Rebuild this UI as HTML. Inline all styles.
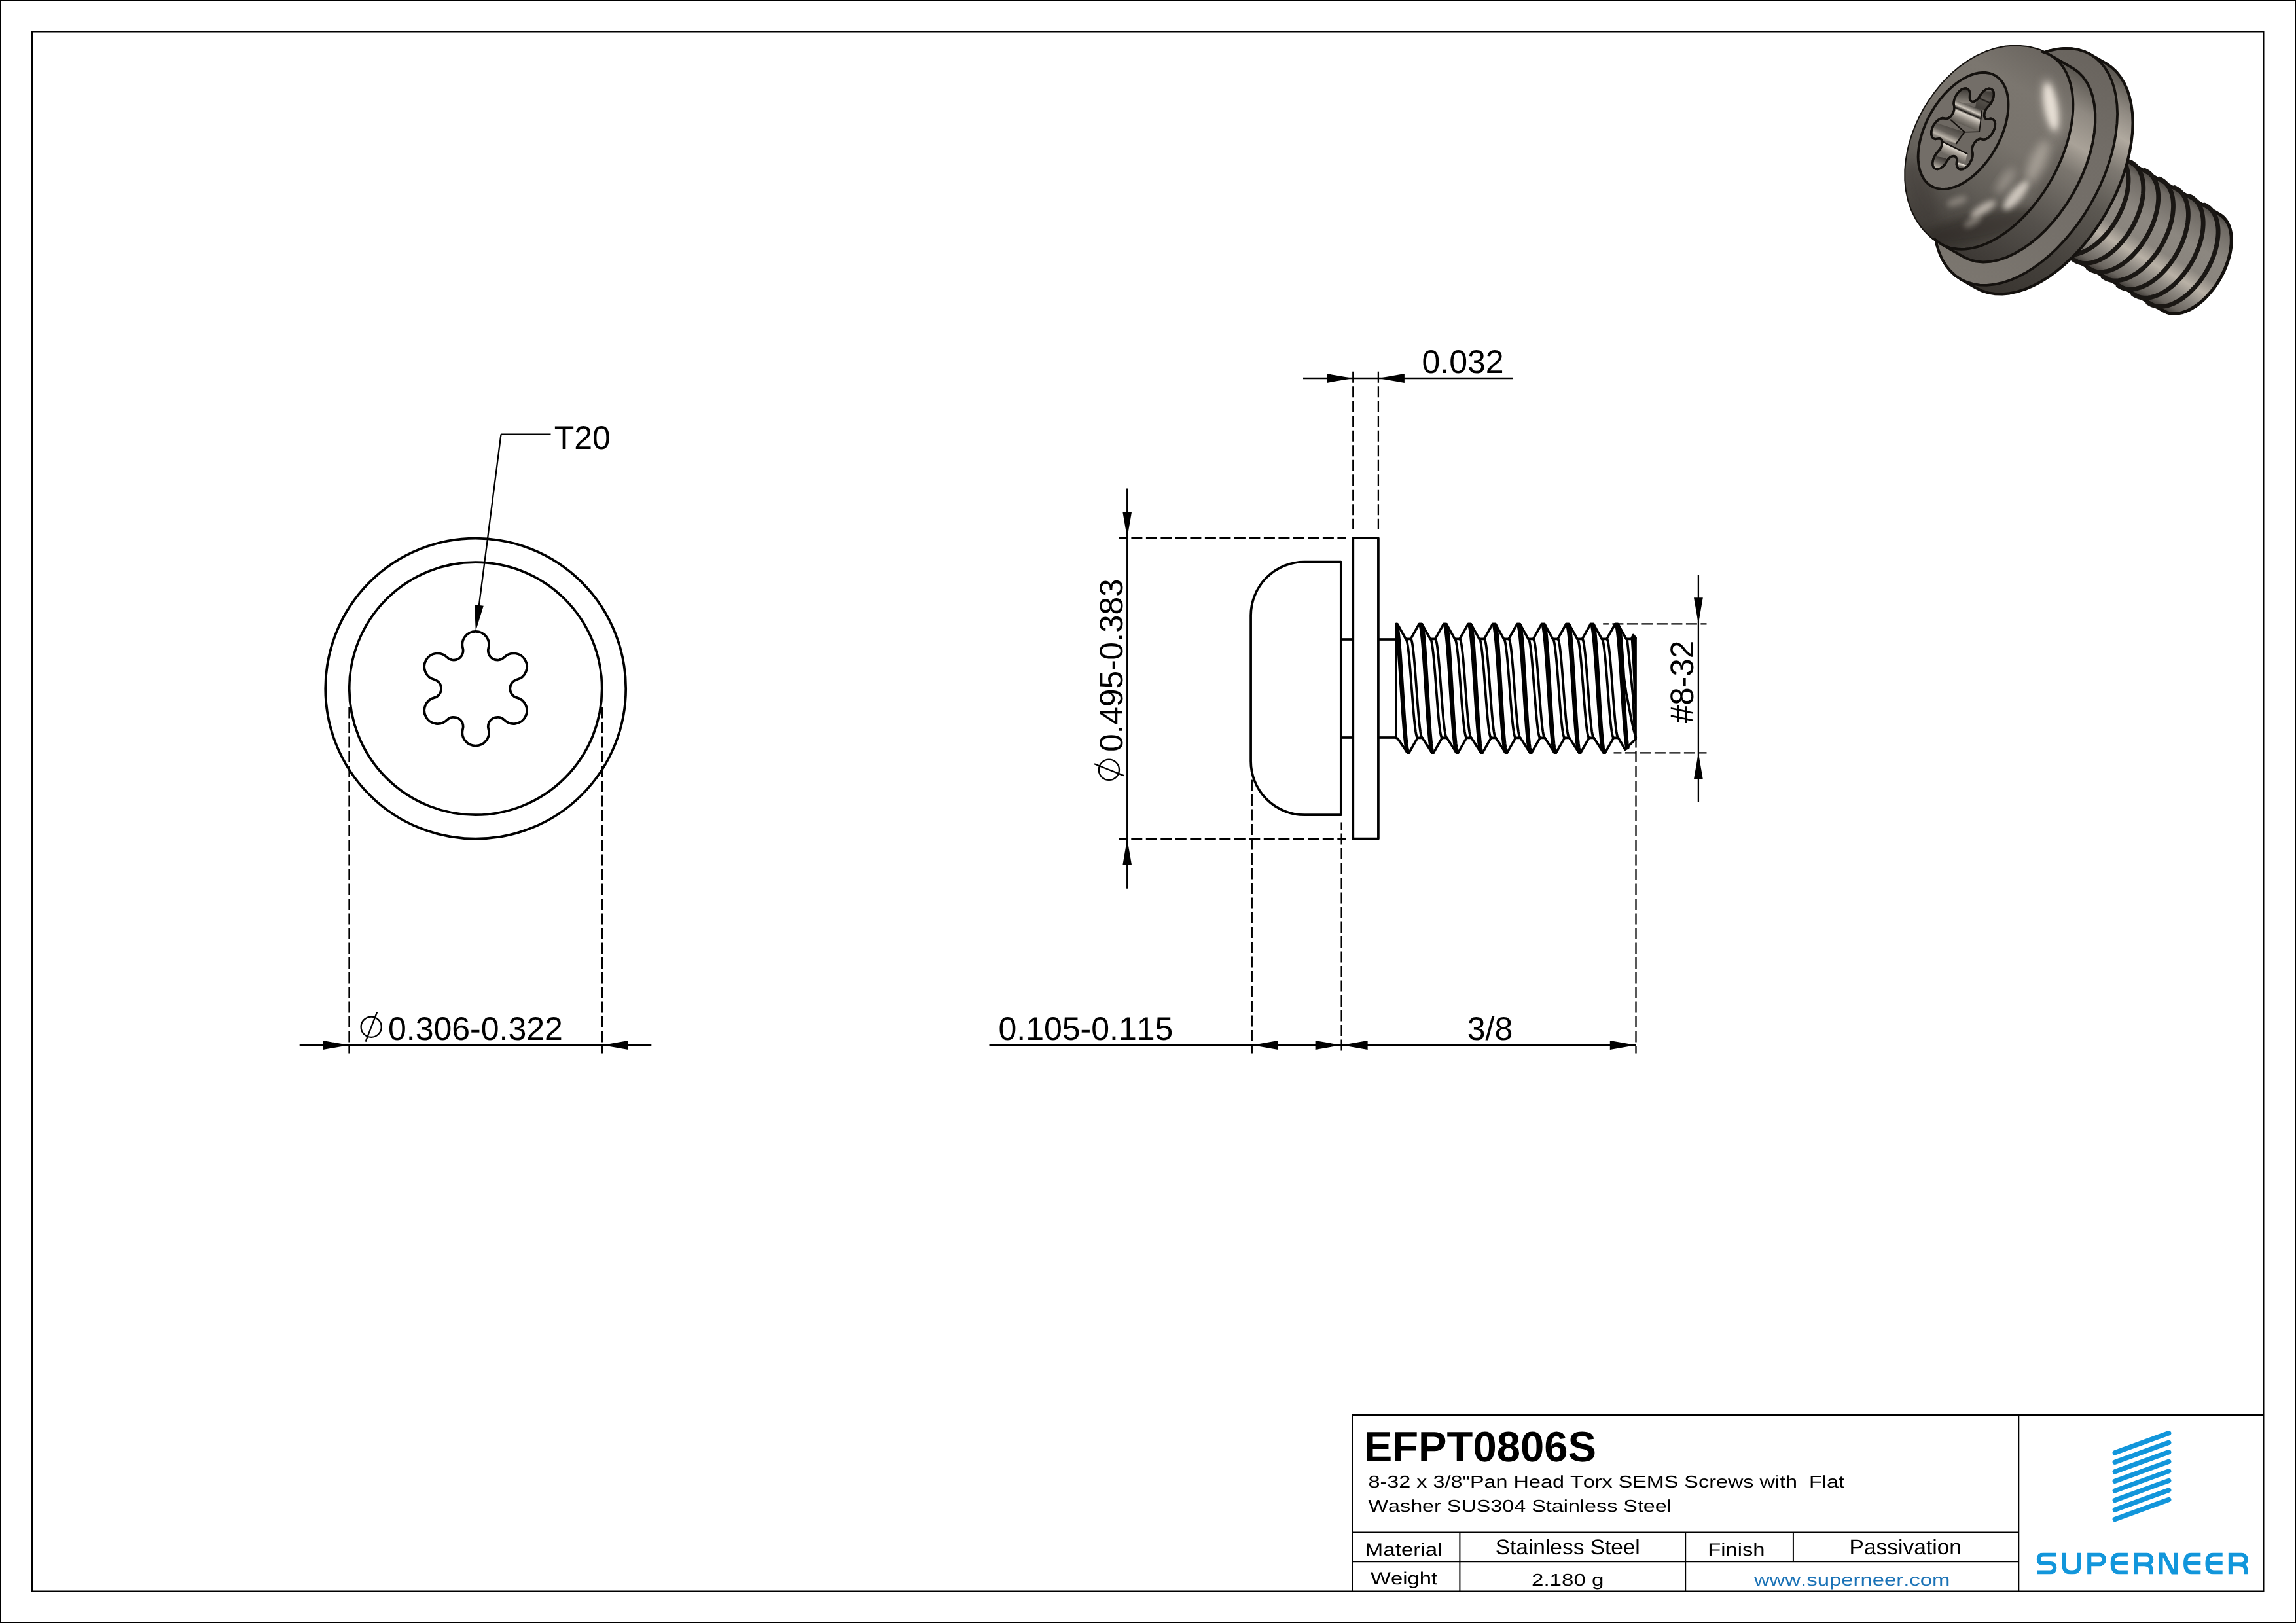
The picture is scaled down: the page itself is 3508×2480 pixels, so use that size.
<!DOCTYPE html>
<html><head><meta charset="utf-8"><title>EFPT0806S</title>
<style>
html,body{margin:0;padding:0;background:#fff;}
body{width:3508px;height:2480px;overflow:hidden;font-family:"Liberation Sans",sans-serif;}
svg{display:block;}
svg text{font-family:"Liberation Sans",sans-serif;font-kerning:none;text-rendering:geometricPrecision;opacity:0.999;}
</style></head><body>
<svg width="3508" height="2480" viewBox="0 0 3508 2480">
<rect width="3508" height="2480" fill="#fff"/>
<rect x="0" y="0" width="3508" height="1.1" fill="#000"/><rect x="0" y="0" width="1.1" height="2480" fill="#000"/><rect x="3506.1" y="0" width="1.9" height="2480" fill="#000"/><rect x="0" y="2478.7" width="3508" height="1.3" fill="#000"/>
<rect x="49" y="48.5" width="3409.50" height="2383.00" fill="none" stroke="#000" stroke-width="2"/>
<circle cx="726.7" cy="1052.2" r="229.5" fill="none" stroke="#000" stroke-width="3.7"/>
<circle cx="726.7" cy="1052.2" r="193" fill="none" stroke="#000" stroke-width="3.7"/>
<path d="M707.09,990.35 A20.3,20.3 0 1 1 746.31,990.35 A14.4,14.4 0 0 0 770.46,1004.29 A20.3,20.3 0 1 1 790.07,1038.26 A14.4,14.4 0 0 0 790.07,1066.14 A20.3,20.3 0 1 1 770.46,1100.11 A14.4,14.4 0 0 0 746.31,1114.05 A20.3,20.3 0 1 1 707.09,1114.05 A14.4,14.4 0 0 0 682.94,1100.11 A20.3,20.3 0 1 1 663.33,1066.14 A14.4,14.4 0 0 0 663.33,1038.26 A20.3,20.3 0 1 1 682.94,1004.29 A14.4,14.4 0 0 0 707.09,990.35Z" fill="none" stroke="#000" stroke-width="3.7" stroke-linejoin="round"/>
<line x1="765.50" y1="663.60" x2="841.50" y2="663.60" stroke="#000" stroke-width="2.3" />
<line x1="765.50" y1="663.60" x2="729.35" y2="944.66" stroke="#000" stroke-width="2.3" />
<polygon points="726.80,964.50 725.06,923.95 738.75,925.71" fill="#000"/>
<text x="846.70" y="685.70" font-size="50" text-anchor="start" font-weight="normal" fill="#000" >T20</text>
<line x1="533.50" y1="1078.00" x2="533.50" y2="1609.60" stroke="#000" stroke-width="2.3" stroke-dasharray="17 5.5" stroke-dashoffset="20.10"/>
<line x1="920.00" y1="1078.00" x2="920.00" y2="1609.60" stroke="#000" stroke-width="2.3" stroke-dasharray="17 5.5" stroke-dashoffset="20.10"/>
<line x1="457.70" y1="1597.00" x2="995.30" y2="1597.00" stroke="#000" stroke-width="2.3" />
<polygon points="533.50,1597.00 493.50,1603.90 493.50,1590.10" fill="#000"/>
<polygon points="920.00,1597.00 960.00,1590.10 960.00,1603.90" fill="#000"/>
<circle cx="567.2" cy="1569.2" r="15.6" fill="none" stroke="#000" stroke-width="2.3"/>
<line x1="558.60" y1="1591.60" x2="576.10" y2="1546.50" stroke="#000" stroke-width="2.3" />
<text x="593.00" y="1588.90" font-size="50" text-anchor="start" font-weight="normal" fill="#000" >0.306-0.322</text>
<path d="M2048.8,858.5 L1993.1,858.5 A82,82 0 0 0 1911.1,940.5 L1911.1,1163.2 A82,82 0 0 0 1993.1,1245.2 L2048.8,1245.2 Z" fill="none" stroke="#000" stroke-width="3.7" stroke-linejoin="round"/>
<rect x="2067.3" y="822.2" width="38.60" height="459.40" fill="none" stroke="#000" stroke-width="3.7" stroke-linejoin="round"/>
<line x1="2048.80" y1="977.00" x2="2067.30" y2="977.00" stroke="#000" stroke-width="3.7" />
<line x1="2048.80" y1="1127.00" x2="2067.30" y2="1127.00" stroke="#000" stroke-width="3.7" />
<line x1="2105.90" y1="977.00" x2="2132.90" y2="977.00" stroke="#000" stroke-width="3.7" />
<line x1="2105.90" y1="1127.00" x2="2132.90" y2="1127.00" stroke="#000" stroke-width="3.7" />
<g id="thread">
<path d="M2132.90,953.65 L2135.10,953.65 L2147.87,976.35 L2155.37,976.35 L2168.14,953.65 L2172.54,953.65 L2185.31,976.35 L2192.81,976.35 L2205.58,953.65 L2209.98,953.65 L2222.75,976.35 L2230.25,976.35 L2243.02,953.65 L2247.42,953.65 L2260.19,976.35 L2267.69,976.35 L2280.46,953.65 L2284.86,953.65 L2297.63,976.35 L2305.13,976.35 L2317.90,953.65 L2322.30,953.65 L2335.07,976.35 L2342.57,976.35 L2355.34,953.65 L2359.74,953.65 L2372.51,976.35 L2380.01,976.35 L2392.78,953.65 L2397.18,953.65 L2409.95,976.35 L2417.45,976.35 L2430.22,953.65 L2434.62,953.65 L2447.39,976.35 L2454.89,976.35 L2467.66,953.65 L2472.06,953.65 L2484.60,976.35 L2492.50,976.35 L2495.40,970.50 L2499.00,974.80" fill="none" stroke="#000" stroke-width="3.7" stroke-linejoin="round" stroke-linecap="round" />
<path d="M2132.90,1127.35 L2135.40,1128.35 L2150.32,1150.05 L2152.92,1150.05 L2165.89,1127.35 L2172.99,1127.35 L2187.76,1150.05 L2190.36,1150.05 L2203.33,1127.35 L2210.43,1127.35 L2225.20,1150.05 L2227.80,1150.05 L2240.77,1127.35 L2247.87,1127.35 L2262.64,1150.05 L2265.24,1150.05 L2278.21,1127.35 L2285.31,1127.35 L2300.08,1150.05 L2302.68,1150.05 L2315.65,1127.35 L2322.75,1127.35 L2337.52,1150.05 L2340.12,1150.05 L2353.09,1127.35 L2360.19,1127.35 L2374.96,1150.05 L2377.56,1150.05 L2390.53,1127.35 L2397.63,1127.35 L2412.40,1150.05 L2415.00,1150.05 L2427.97,1127.35 L2435.07,1127.35 L2449.84,1150.05 L2452.44,1150.05 L2465.41,1127.35 L2472.51,1127.35 L2482.80,1145.00 L2499.00,1129.50" fill="none" stroke="#000" stroke-width="3.7" stroke-linejoin="round" stroke-linecap="round" />
<line x1="2132.90" y1="953.65" x2="2132.90" y2="1127.35" stroke="#000" stroke-width="3.7" />
<line x1="2499.00" y1="974.50" x2="2499.00" y2="1129.50" stroke="#000" stroke-width="3.7" />
<path d="M2132.90,953.65 L2132.90,954.49 L2132.90,957.00 L2132.90,961.13 L2133.72,966.81 L2134.55,973.94 L2135.38,982.41 L2136.21,992.07 L2137.04,1002.75 L2137.87,1014.27 L2138.70,1026.43 L2139.53,1039.03 L2140.36,1051.85 L2141.19,1064.67 L2142.02,1077.27 L2142.85,1089.43 L2143.68,1100.95 L2144.51,1111.63 L2145.34,1121.29 L2146.17,1129.76 L2147.00,1136.89 L2147.83,1142.57 L2148.66,1146.70 L2149.49,1149.21 L2150.32,1150.05 L2152.92,1150.05 L2152.12,1149.21 L2151.33,1146.70 L2150.53,1142.57 L2149.73,1136.89 L2148.94,1129.76 L2148.14,1121.29 L2147.34,1111.63 L2146.55,1100.95 L2145.75,1089.43 L2144.95,1077.27 L2144.16,1064.67 L2143.36,1051.85 L2142.56,1039.03 L2141.77,1026.43 L2140.97,1014.27 L2140.17,1002.75 L2139.38,992.07 L2138.58,982.41 L2137.78,973.94 L2136.99,966.81 L2136.19,961.13 L2135.39,957.00 L2134.60,954.49 L2133.80,953.65Z" fill="#000" stroke="#000" stroke-width="3.7" stroke-linejoin="round" stroke-linecap="round" />
<path d="M2147.87,976.35 L2148.62,977.00 L2149.37,978.92 L2150.12,982.10 L2150.87,986.47 L2151.62,991.95 L2152.38,998.46 L2153.13,1005.89 L2153.88,1014.10 L2154.63,1022.96 L2155.38,1032.31 L2156.13,1042.00 L2156.88,1051.85 L2157.63,1061.70 L2158.38,1071.39 L2159.13,1080.74 L2159.88,1089.60 L2160.63,1097.81 L2161.39,1105.24 L2162.14,1111.75 L2162.89,1117.23 L2163.64,1121.60 L2164.39,1124.78 L2165.14,1126.70 L2165.89,1127.35" fill="none" stroke="#000" stroke-width="3.7" stroke-linejoin="round" stroke-linecap="round" />
<path d="M2155.37,976.35 L2156.10,977.00 L2156.84,978.92 L2157.57,982.10 L2158.31,986.47 L2159.04,991.95 L2159.78,998.46 L2160.51,1005.89 L2161.24,1014.10 L2161.98,1022.96 L2162.71,1032.31 L2163.45,1042.00 L2164.18,1051.85 L2164.91,1061.70 L2165.65,1071.39 L2166.38,1080.74 L2167.12,1089.60 L2167.85,1097.81 L2168.59,1105.24 L2169.32,1111.75 L2170.05,1117.23 L2170.79,1121.60 L2171.52,1124.78 L2172.26,1126.70 L2172.99,1127.35" fill="none" stroke="#000" stroke-width="3.7" stroke-linejoin="round" stroke-linecap="round" />
<path d="M2168.14,953.65 L2168.96,954.49 L2169.78,957.00 L2170.59,961.13 L2171.41,966.81 L2172.23,973.94 L2173.05,982.41 L2173.86,992.07 L2174.68,1002.75 L2175.50,1014.27 L2176.32,1026.43 L2177.13,1039.03 L2177.95,1051.85 L2178.77,1064.67 L2179.59,1077.27 L2180.40,1089.43 L2181.22,1100.95 L2182.04,1111.63 L2182.86,1121.29 L2183.67,1129.76 L2184.49,1136.89 L2185.31,1142.57 L2186.12,1146.70 L2186.94,1149.21 L2187.76,1150.05 L2190.36,1150.05 L2189.62,1149.21 L2188.88,1146.70 L2188.13,1142.57 L2187.39,1136.89 L2186.65,1129.76 L2185.91,1121.29 L2185.16,1111.63 L2184.42,1100.95 L2183.68,1089.43 L2182.93,1077.27 L2182.19,1064.67 L2181.45,1051.85 L2180.71,1039.03 L2179.97,1026.43 L2179.22,1014.27 L2178.48,1002.75 L2177.74,992.07 L2176.99,982.41 L2176.25,973.94 L2175.51,966.81 L2174.77,961.13 L2174.03,957.00 L2173.28,954.49 L2172.54,953.65Z" fill="#000" stroke="#000" stroke-width="3.7" stroke-linejoin="round" stroke-linecap="round" />
<path d="M2185.31,976.35 L2186.06,977.00 L2186.81,978.92 L2187.56,982.10 L2188.31,986.47 L2189.06,991.95 L2189.82,998.46 L2190.57,1005.89 L2191.32,1014.10 L2192.07,1022.96 L2192.82,1032.31 L2193.57,1042.00 L2194.32,1051.85 L2195.07,1061.70 L2195.82,1071.39 L2196.57,1080.74 L2197.32,1089.60 L2198.07,1097.81 L2198.83,1105.24 L2199.58,1111.75 L2200.33,1117.23 L2201.08,1121.60 L2201.83,1124.78 L2202.58,1126.70 L2203.33,1127.35" fill="none" stroke="#000" stroke-width="3.7" stroke-linejoin="round" stroke-linecap="round" />
<path d="M2192.81,976.35 L2193.54,977.00 L2194.28,978.92 L2195.01,982.10 L2195.75,986.47 L2196.48,991.95 L2197.22,998.46 L2197.95,1005.89 L2198.68,1014.10 L2199.42,1022.96 L2200.15,1032.31 L2200.89,1042.00 L2201.62,1051.85 L2202.35,1061.70 L2203.09,1071.39 L2203.82,1080.74 L2204.56,1089.60 L2205.29,1097.81 L2206.03,1105.24 L2206.76,1111.75 L2207.49,1117.23 L2208.23,1121.60 L2208.96,1124.78 L2209.70,1126.70 L2210.43,1127.35" fill="none" stroke="#000" stroke-width="3.7" stroke-linejoin="round" stroke-linecap="round" />
<path d="M2205.58,953.65 L2206.40,954.49 L2207.22,957.00 L2208.03,961.13 L2208.85,966.81 L2209.67,973.94 L2210.49,982.41 L2211.30,992.07 L2212.12,1002.75 L2212.94,1014.27 L2213.76,1026.43 L2214.57,1039.03 L2215.39,1051.85 L2216.21,1064.67 L2217.03,1077.27 L2217.84,1089.43 L2218.66,1100.95 L2219.48,1111.63 L2220.30,1121.29 L2221.11,1129.76 L2221.93,1136.89 L2222.75,1142.57 L2223.57,1146.70 L2224.38,1149.21 L2225.20,1150.05 L2227.80,1150.05 L2227.06,1149.21 L2226.32,1146.70 L2225.57,1142.57 L2224.83,1136.89 L2224.09,1129.76 L2223.35,1121.29 L2222.60,1111.63 L2221.86,1100.95 L2221.12,1089.43 L2220.38,1077.27 L2219.63,1064.67 L2218.89,1051.85 L2218.15,1039.03 L2217.41,1026.43 L2216.66,1014.27 L2215.92,1002.75 L2215.18,992.07 L2214.43,982.41 L2213.69,973.94 L2212.95,966.81 L2212.21,961.13 L2211.47,957.00 L2210.72,954.49 L2209.98,953.65Z" fill="#000" stroke="#000" stroke-width="3.7" stroke-linejoin="round" stroke-linecap="round" />
<path d="M2222.75,976.35 L2223.50,977.00 L2224.25,978.92 L2225.00,982.10 L2225.75,986.47 L2226.50,991.95 L2227.26,998.46 L2228.01,1005.89 L2228.76,1014.10 L2229.51,1022.96 L2230.26,1032.31 L2231.01,1042.00 L2231.76,1051.85 L2232.51,1061.70 L2233.26,1071.39 L2234.01,1080.74 L2234.76,1089.60 L2235.51,1097.81 L2236.27,1105.24 L2237.02,1111.75 L2237.77,1117.23 L2238.52,1121.60 L2239.27,1124.78 L2240.02,1126.70 L2240.77,1127.35" fill="none" stroke="#000" stroke-width="3.7" stroke-linejoin="round" stroke-linecap="round" />
<path d="M2230.25,976.35 L2230.98,977.00 L2231.72,978.92 L2232.45,982.10 L2233.19,986.47 L2233.92,991.95 L2234.66,998.46 L2235.39,1005.89 L2236.12,1014.10 L2236.86,1022.96 L2237.59,1032.31 L2238.33,1042.00 L2239.06,1051.85 L2239.79,1061.70 L2240.53,1071.39 L2241.26,1080.74 L2242.00,1089.60 L2242.73,1097.81 L2243.47,1105.24 L2244.20,1111.75 L2244.93,1117.23 L2245.67,1121.60 L2246.40,1124.78 L2247.14,1126.70 L2247.87,1127.35" fill="none" stroke="#000" stroke-width="3.7" stroke-linejoin="round" stroke-linecap="round" />
<path d="M2243.02,953.65 L2243.84,954.49 L2244.66,957.00 L2245.47,961.13 L2246.29,966.81 L2247.11,973.94 L2247.93,982.41 L2248.74,992.07 L2249.56,1002.75 L2250.38,1014.27 L2251.20,1026.43 L2252.01,1039.03 L2252.83,1051.85 L2253.65,1064.67 L2254.47,1077.27 L2255.28,1089.43 L2256.10,1100.95 L2256.92,1111.63 L2257.74,1121.29 L2258.55,1129.76 L2259.37,1136.89 L2260.19,1142.57 L2261.01,1146.70 L2261.82,1149.21 L2262.64,1150.05 L2265.24,1150.05 L2264.50,1149.21 L2263.76,1146.70 L2263.01,1142.57 L2262.27,1136.89 L2261.53,1129.76 L2260.79,1121.29 L2260.04,1111.63 L2259.30,1100.95 L2258.56,1089.43 L2257.82,1077.27 L2257.07,1064.67 L2256.33,1051.85 L2255.59,1039.03 L2254.85,1026.43 L2254.10,1014.27 L2253.36,1002.75 L2252.62,992.07 L2251.88,982.41 L2251.13,973.94 L2250.39,966.81 L2249.65,961.13 L2248.91,957.00 L2248.16,954.49 L2247.42,953.65Z" fill="#000" stroke="#000" stroke-width="3.7" stroke-linejoin="round" stroke-linecap="round" />
<path d="M2260.19,976.35 L2260.94,977.00 L2261.69,978.92 L2262.44,982.10 L2263.19,986.47 L2263.94,991.95 L2264.70,998.46 L2265.45,1005.89 L2266.20,1014.10 L2266.95,1022.96 L2267.70,1032.31 L2268.45,1042.00 L2269.20,1051.85 L2269.95,1061.70 L2270.70,1071.39 L2271.45,1080.74 L2272.20,1089.60 L2272.95,1097.81 L2273.71,1105.24 L2274.46,1111.75 L2275.21,1117.23 L2275.96,1121.60 L2276.71,1124.78 L2277.46,1126.70 L2278.21,1127.35" fill="none" stroke="#000" stroke-width="3.7" stroke-linejoin="round" stroke-linecap="round" />
<path d="M2267.69,976.35 L2268.42,977.00 L2269.16,978.92 L2269.89,982.10 L2270.63,986.47 L2271.36,991.95 L2272.10,998.46 L2272.83,1005.89 L2273.56,1014.10 L2274.30,1022.96 L2275.03,1032.31 L2275.77,1042.00 L2276.50,1051.85 L2277.23,1061.70 L2277.97,1071.39 L2278.70,1080.74 L2279.44,1089.60 L2280.17,1097.81 L2280.91,1105.24 L2281.64,1111.75 L2282.37,1117.23 L2283.11,1121.60 L2283.84,1124.78 L2284.58,1126.70 L2285.31,1127.35" fill="none" stroke="#000" stroke-width="3.7" stroke-linejoin="round" stroke-linecap="round" />
<path d="M2280.46,953.65 L2281.28,954.49 L2282.09,957.00 L2282.91,961.13 L2283.73,966.81 L2284.55,973.94 L2285.36,982.41 L2286.18,992.07 L2287.00,1002.75 L2287.82,1014.27 L2288.63,1026.43 L2289.45,1039.03 L2290.27,1051.85 L2291.09,1064.67 L2291.90,1077.27 L2292.72,1089.43 L2293.54,1100.95 L2294.36,1111.63 L2295.17,1121.29 L2295.99,1129.76 L2296.81,1136.89 L2297.63,1142.57 L2298.44,1146.70 L2299.26,1149.21 L2300.08,1150.05 L2302.68,1150.05 L2301.94,1149.21 L2301.19,1146.70 L2300.45,1142.57 L2299.71,1136.89 L2298.97,1129.76 L2298.22,1121.29 L2297.48,1111.63 L2296.74,1100.95 L2296.00,1089.43 L2295.25,1077.27 L2294.51,1064.67 L2293.77,1051.85 L2293.03,1039.03 L2292.28,1026.43 L2291.54,1014.27 L2290.80,1002.75 L2290.06,992.07 L2289.31,982.41 L2288.57,973.94 L2287.83,966.81 L2287.09,961.13 L2286.34,957.00 L2285.60,954.49 L2284.86,953.65Z" fill="#000" stroke="#000" stroke-width="3.7" stroke-linejoin="round" stroke-linecap="round" />
<path d="M2297.63,976.35 L2298.38,977.00 L2299.13,978.92 L2299.88,982.10 L2300.63,986.47 L2301.38,991.95 L2302.13,998.46 L2302.89,1005.89 L2303.64,1014.10 L2304.39,1022.96 L2305.14,1032.31 L2305.89,1042.00 L2306.64,1051.85 L2307.39,1061.70 L2308.14,1071.39 L2308.89,1080.74 L2309.64,1089.60 L2310.39,1097.81 L2311.14,1105.24 L2311.90,1111.75 L2312.65,1117.23 L2313.40,1121.60 L2314.15,1124.78 L2314.90,1126.70 L2315.65,1127.35" fill="none" stroke="#000" stroke-width="3.7" stroke-linejoin="round" stroke-linecap="round" />
<path d="M2305.13,976.35 L2305.86,977.00 L2306.60,978.92 L2307.33,982.10 L2308.07,986.47 L2308.80,991.95 L2309.53,998.46 L2310.27,1005.89 L2311.00,1014.10 L2311.74,1022.96 L2312.47,1032.31 L2313.21,1042.00 L2313.94,1051.85 L2314.67,1061.70 L2315.41,1071.39 L2316.14,1080.74 L2316.88,1089.60 L2317.61,1097.81 L2318.34,1105.24 L2319.08,1111.75 L2319.81,1117.23 L2320.55,1121.60 L2321.28,1124.78 L2322.02,1126.70 L2322.75,1127.35" fill="none" stroke="#000" stroke-width="3.7" stroke-linejoin="round" stroke-linecap="round" />
<path d="M2317.90,953.65 L2318.72,954.49 L2319.53,957.00 L2320.35,961.13 L2321.17,966.81 L2321.99,973.94 L2322.80,982.41 L2323.62,992.07 L2324.44,1002.75 L2325.26,1014.27 L2326.07,1026.43 L2326.89,1039.03 L2327.71,1051.85 L2328.53,1064.67 L2329.34,1077.27 L2330.16,1089.43 L2330.98,1100.95 L2331.80,1111.63 L2332.61,1121.29 L2333.43,1129.76 L2334.25,1136.89 L2335.07,1142.57 L2335.88,1146.70 L2336.70,1149.21 L2337.52,1150.05 L2340.12,1150.05 L2339.38,1149.21 L2338.63,1146.70 L2337.89,1142.57 L2337.15,1136.89 L2336.41,1129.76 L2335.66,1121.29 L2334.92,1111.63 L2334.18,1100.95 L2333.44,1089.43 L2332.69,1077.27 L2331.95,1064.67 L2331.21,1051.85 L2330.47,1039.03 L2329.72,1026.43 L2328.98,1014.27 L2328.24,1002.75 L2327.50,992.07 L2326.75,982.41 L2326.01,973.94 L2325.27,966.81 L2324.53,961.13 L2323.78,957.00 L2323.04,954.49 L2322.30,953.65Z" fill="#000" stroke="#000" stroke-width="3.7" stroke-linejoin="round" stroke-linecap="round" />
<path d="M2335.07,976.35 L2335.82,977.00 L2336.57,978.92 L2337.32,982.10 L2338.07,986.47 L2338.82,991.95 L2339.57,998.46 L2340.33,1005.89 L2341.08,1014.10 L2341.83,1022.96 L2342.58,1032.31 L2343.33,1042.00 L2344.08,1051.85 L2344.83,1061.70 L2345.58,1071.39 L2346.33,1080.74 L2347.08,1089.60 L2347.83,1097.81 L2348.59,1105.24 L2349.34,1111.75 L2350.09,1117.23 L2350.84,1121.60 L2351.59,1124.78 L2352.34,1126.70 L2353.09,1127.35" fill="none" stroke="#000" stroke-width="3.7" stroke-linejoin="round" stroke-linecap="round" />
<path d="M2342.57,976.35 L2343.30,977.00 L2344.04,978.92 L2344.77,982.10 L2345.51,986.47 L2346.24,991.95 L2346.97,998.46 L2347.71,1005.89 L2348.44,1014.10 L2349.18,1022.96 L2349.91,1032.31 L2350.65,1042.00 L2351.38,1051.85 L2352.11,1061.70 L2352.85,1071.39 L2353.58,1080.74 L2354.32,1089.60 L2355.05,1097.81 L2355.78,1105.24 L2356.52,1111.75 L2357.25,1117.23 L2357.99,1121.60 L2358.72,1124.78 L2359.46,1126.70 L2360.19,1127.35" fill="none" stroke="#000" stroke-width="3.7" stroke-linejoin="round" stroke-linecap="round" />
<path d="M2355.34,953.65 L2356.16,954.49 L2356.97,957.00 L2357.79,961.13 L2358.61,966.81 L2359.43,973.94 L2360.24,982.41 L2361.06,992.07 L2361.88,1002.75 L2362.70,1014.27 L2363.51,1026.43 L2364.33,1039.03 L2365.15,1051.85 L2365.97,1064.67 L2366.78,1077.27 L2367.60,1089.43 L2368.42,1100.95 L2369.24,1111.63 L2370.05,1121.29 L2370.87,1129.76 L2371.69,1136.89 L2372.51,1142.57 L2373.32,1146.70 L2374.14,1149.21 L2374.96,1150.05 L2377.56,1150.05 L2376.82,1149.21 L2376.07,1146.70 L2375.33,1142.57 L2374.59,1136.89 L2373.85,1129.76 L2373.11,1121.29 L2372.36,1111.63 L2371.62,1100.95 L2370.88,1089.43 L2370.13,1077.27 L2369.39,1064.67 L2368.65,1051.85 L2367.91,1039.03 L2367.16,1026.43 L2366.42,1014.27 L2365.68,1002.75 L2364.94,992.07 L2364.19,982.41 L2363.45,973.94 L2362.71,966.81 L2361.97,961.13 L2361.22,957.00 L2360.48,954.49 L2359.74,953.65Z" fill="#000" stroke="#000" stroke-width="3.7" stroke-linejoin="round" stroke-linecap="round" />
<path d="M2372.51,976.35 L2373.26,977.00 L2374.01,978.92 L2374.76,982.10 L2375.51,986.47 L2376.26,991.95 L2377.01,998.46 L2377.77,1005.89 L2378.52,1014.10 L2379.27,1022.96 L2380.02,1032.31 L2380.77,1042.00 L2381.52,1051.85 L2382.27,1061.70 L2383.02,1071.39 L2383.77,1080.74 L2384.52,1089.60 L2385.27,1097.81 L2386.03,1105.24 L2386.78,1111.75 L2387.53,1117.23 L2388.28,1121.60 L2389.03,1124.78 L2389.78,1126.70 L2390.53,1127.35" fill="none" stroke="#000" stroke-width="3.7" stroke-linejoin="round" stroke-linecap="round" />
<path d="M2380.01,976.35 L2380.74,977.00 L2381.48,978.92 L2382.21,982.10 L2382.95,986.47 L2383.68,991.95 L2384.41,998.46 L2385.15,1005.89 L2385.88,1014.10 L2386.62,1022.96 L2387.35,1032.31 L2388.09,1042.00 L2388.82,1051.85 L2389.55,1061.70 L2390.29,1071.39 L2391.02,1080.74 L2391.76,1089.60 L2392.49,1097.81 L2393.22,1105.24 L2393.96,1111.75 L2394.69,1117.23 L2395.43,1121.60 L2396.16,1124.78 L2396.90,1126.70 L2397.63,1127.35" fill="none" stroke="#000" stroke-width="3.7" stroke-linejoin="round" stroke-linecap="round" />
<path d="M2392.78,953.65 L2393.60,954.49 L2394.41,957.00 L2395.23,961.13 L2396.05,966.81 L2396.87,973.94 L2397.68,982.41 L2398.50,992.07 L2399.32,1002.75 L2400.14,1014.27 L2400.95,1026.43 L2401.77,1039.03 L2402.59,1051.85 L2403.41,1064.67 L2404.22,1077.27 L2405.04,1089.43 L2405.86,1100.95 L2406.68,1111.63 L2407.49,1121.29 L2408.31,1129.76 L2409.13,1136.89 L2409.95,1142.57 L2410.76,1146.70 L2411.58,1149.21 L2412.40,1150.05 L2415.00,1150.05 L2414.26,1149.21 L2413.51,1146.70 L2412.77,1142.57 L2412.03,1136.89 L2411.29,1129.76 L2410.55,1121.29 L2409.80,1111.63 L2409.06,1100.95 L2408.32,1089.43 L2407.57,1077.27 L2406.83,1064.67 L2406.09,1051.85 L2405.35,1039.03 L2404.61,1026.43 L2403.86,1014.27 L2403.12,1002.75 L2402.38,992.07 L2401.63,982.41 L2400.89,973.94 L2400.15,966.81 L2399.41,961.13 L2398.66,957.00 L2397.92,954.49 L2397.18,953.65Z" fill="#000" stroke="#000" stroke-width="3.7" stroke-linejoin="round" stroke-linecap="round" />
<path d="M2409.95,976.35 L2410.70,977.00 L2411.45,978.92 L2412.20,982.10 L2412.95,986.47 L2413.70,991.95 L2414.45,998.46 L2415.21,1005.89 L2415.96,1014.10 L2416.71,1022.96 L2417.46,1032.31 L2418.21,1042.00 L2418.96,1051.85 L2419.71,1061.70 L2420.46,1071.39 L2421.21,1080.74 L2421.96,1089.60 L2422.71,1097.81 L2423.47,1105.24 L2424.22,1111.75 L2424.97,1117.23 L2425.72,1121.60 L2426.47,1124.78 L2427.22,1126.70 L2427.97,1127.35" fill="none" stroke="#000" stroke-width="3.7" stroke-linejoin="round" stroke-linecap="round" />
<path d="M2417.45,976.35 L2418.18,977.00 L2418.92,978.92 L2419.65,982.10 L2420.39,986.47 L2421.12,991.95 L2421.86,998.46 L2422.59,1005.89 L2423.32,1014.10 L2424.06,1022.96 L2424.79,1032.31 L2425.53,1042.00 L2426.26,1051.85 L2426.99,1061.70 L2427.73,1071.39 L2428.46,1080.74 L2429.20,1089.60 L2429.93,1097.81 L2430.66,1105.24 L2431.40,1111.75 L2432.13,1117.23 L2432.87,1121.60 L2433.60,1124.78 L2434.34,1126.70 L2435.07,1127.35" fill="none" stroke="#000" stroke-width="3.7" stroke-linejoin="round" stroke-linecap="round" />
<path d="M2430.22,953.65 L2431.04,954.49 L2431.86,957.00 L2432.67,961.13 L2433.49,966.81 L2434.31,973.94 L2435.12,982.41 L2435.94,992.07 L2436.76,1002.75 L2437.58,1014.27 L2438.39,1026.43 L2439.21,1039.03 L2440.03,1051.85 L2440.85,1064.67 L2441.66,1077.27 L2442.48,1089.43 L2443.30,1100.95 L2444.12,1111.63 L2444.93,1121.29 L2445.75,1129.76 L2446.57,1136.89 L2447.39,1142.57 L2448.20,1146.70 L2449.02,1149.21 L2449.84,1150.05 L2452.44,1150.05 L2451.70,1149.21 L2450.95,1146.70 L2450.21,1142.57 L2449.47,1136.89 L2448.73,1129.76 L2447.99,1121.29 L2447.24,1111.63 L2446.50,1100.95 L2445.76,1089.43 L2445.01,1077.27 L2444.27,1064.67 L2443.53,1051.85 L2442.79,1039.03 L2442.05,1026.43 L2441.30,1014.27 L2440.56,1002.75 L2439.82,992.07 L2439.07,982.41 L2438.33,973.94 L2437.59,966.81 L2436.85,961.13 L2436.11,957.00 L2435.36,954.49 L2434.62,953.65Z" fill="#000" stroke="#000" stroke-width="3.7" stroke-linejoin="round" stroke-linecap="round" />
<path d="M2447.39,976.35 L2448.14,977.00 L2448.89,978.92 L2449.64,982.10 L2450.39,986.47 L2451.14,991.95 L2451.89,998.46 L2452.65,1005.89 L2453.40,1014.10 L2454.15,1022.96 L2454.90,1032.31 L2455.65,1042.00 L2456.40,1051.85 L2457.15,1061.70 L2457.90,1071.39 L2458.65,1080.74 L2459.40,1089.60 L2460.15,1097.81 L2460.91,1105.24 L2461.66,1111.75 L2462.41,1117.23 L2463.16,1121.60 L2463.91,1124.78 L2464.66,1126.70 L2465.41,1127.35" fill="none" stroke="#000" stroke-width="3.7" stroke-linejoin="round" stroke-linecap="round" />
<path d="M2454.89,976.35 L2455.62,977.00 L2456.36,978.92 L2457.09,982.10 L2457.83,986.47 L2458.56,991.95 L2459.30,998.46 L2460.03,1005.89 L2460.76,1014.10 L2461.50,1022.96 L2462.23,1032.31 L2462.97,1042.00 L2463.70,1051.85 L2464.43,1061.70 L2465.17,1071.39 L2465.90,1080.74 L2466.64,1089.60 L2467.37,1097.81 L2468.11,1105.24 L2468.84,1111.75 L2469.57,1117.23 L2470.31,1121.60 L2471.04,1124.78 L2471.78,1126.70 L2472.51,1127.35" fill="none" stroke="#000" stroke-width="3.7" stroke-linejoin="round" stroke-linecap="round" />
<path d="M2467.66,953.65 L2468.48,954.49 L2469.30,957.00 L2470.11,961.13 L2470.93,966.81 L2471.75,973.94 L2472.57,982.41 L2473.38,992.07 L2474.20,1002.75 L2475.02,1014.27 L2475.84,1026.43 L2476.65,1039.03 L2477.47,1051.85 L2478.29,1064.67 L2479.11,1077.27 L2479.92,1089.43 L2480.74,1100.95 L2481.56,1111.63 L2482.38,1121.29 L2483.19,1129.76 L2484.01,1136.89 L2484.83,1142.57 L2487.65,1142.57 L2486.91,1136.89 L2486.17,1129.76 L2485.43,1121.29 L2484.68,1111.63 L2483.94,1100.95 L2483.20,1089.43 L2482.45,1077.27 L2481.71,1064.67 L2480.97,1051.85 L2480.23,1039.03 L2479.49,1026.43 L2478.74,1014.27 L2478.00,1002.75 L2477.26,992.07 L2476.51,982.41 L2475.77,973.94 L2475.03,966.81 L2474.29,961.13 L2473.55,957.00 L2472.80,954.49 L2472.06,953.65Z" fill="#000" stroke="#000" stroke-width="3.7" stroke-linejoin="round" stroke-linecap="round" />
<path d="M2487.65,1142.57 L2482.80,1145.00" fill="none" stroke="#000" stroke-width="3.7" stroke-linejoin="round" stroke-linecap="round" />
<path d="M2476.50,967.00 L2479.00,1000.00 L2481.20,1035.00 L2484.50,1058.00 L2488.00,1075.70 L2492.00,1097.00 L2496.00,1115.00 L2499.30,1127.00" fill="none" stroke="#000" stroke-width="3.7" stroke-linejoin="round" stroke-linecap="round" />
<path d="M2486.00,976.60 L2488.50,1000.00 L2490.70,1021.40 L2494.80,1062.00 L2497.30,1109.60" fill="none" stroke="#000" stroke-width="3.7" stroke-linejoin="round" stroke-linecap="round" />
<path d="M2492.70,976.00 L2495.40,971.00 L2499.00,974.50 L2499.00,1075.00 L2497.50,1075.00 L2495.50,1020.00Z" fill="#000" stroke="#000" stroke-width="2" stroke-linejoin="round" stroke-linecap="round" />
</g>
<line x1="2067.30" y1="567.70" x2="2067.30" y2="809.00" stroke="#000" stroke-width="2.3" stroke-dasharray="17 5.5" stroke-dashoffset="0.00"/>
<line x1="2105.90" y1="567.70" x2="2105.90" y2="809.00" stroke="#000" stroke-width="2.3" stroke-dasharray="17 5.5" stroke-dashoffset="0.00"/>
<line x1="1991.00" y1="578.00" x2="2312.00" y2="578.00" stroke="#000" stroke-width="2.3" />
<polygon points="2067.30,578.00 2027.30,584.90 2027.30,571.10" fill="#000"/>
<polygon points="2105.90,578.00 2145.90,571.10 2145.90,584.90" fill="#000"/>
<text x="2172.50" y="569.90" font-size="50" text-anchor="start" font-weight="normal" fill="#000" >0.032</text>
<line x1="1722.20" y1="746.40" x2="1722.20" y2="1357.70" stroke="#000" stroke-width="2.3" />
<polygon points="1722.20,822.20 1715.30,782.20 1729.10,782.20" fill="#000"/>
<polygon points="1722.20,1281.80 1729.10,1321.80 1715.30,1321.80" fill="#000"/>
<line x1="1710.00" y1="822.20" x2="2056.50" y2="822.20" stroke="#000" stroke-width="2.3" stroke-dasharray="17 5.5" stroke-dashoffset="4.10"/>
<line x1="1710.00" y1="1281.80" x2="2056.70" y2="1281.80" stroke="#000" stroke-width="2.3" stroke-dasharray="17 5.5" stroke-dashoffset="4.20"/>
<text x="1715.20" y="1148.70" font-size="50" text-anchor="start" font-weight="normal" fill="#000" transform="rotate(-90 1715.20 1148.70)" textLength="264.20" lengthAdjust="spacingAndGlyphs" >0.495-0.383</text>
<circle cx="1694.4" cy="1176.3" r="15.6" fill="none" stroke="#000" stroke-width="2.3"/>
<line x1="1716.90" y1="1185.10" x2="1672.00" y2="1167.20" stroke="#000" stroke-width="2.3" />
<line x1="2594.90" y1="878.00" x2="2594.90" y2="1226.00" stroke="#000" stroke-width="2.3" />
<polygon points="2594.90,953.30 2588.00,913.30 2601.80,913.30" fill="#000"/>
<polygon points="2594.90,1150.40 2601.80,1190.40 2588.00,1190.40" fill="#000"/>
<line x1="2449.20" y1="953.40" x2="2607.50" y2="953.40" stroke="#000" stroke-width="2.3" stroke-dasharray="17 5.5" stroke-dashoffset="8.30"/>
<line x1="2465.50" y1="1150.40" x2="2607.50" y2="1150.40" stroke="#000" stroke-width="2.3" stroke-dasharray="17 5.5" stroke-dashoffset="5.10"/>
<text x="2587.10" y="1105.30" font-size="50" text-anchor="start" font-weight="normal" fill="#000" transform="rotate(-90 2587.10 1105.30)" textLength="126.50" lengthAdjust="spacingAndGlyphs" >#8-32</text>
<line x1="1912.80" y1="1188.00" x2="1912.80" y2="1609.50" stroke="#000" stroke-width="2.3" stroke-dasharray="17 5.5" stroke-dashoffset="18.90"/>
<line x1="2049.60" y1="1256.50" x2="2049.60" y2="1609.50" stroke="#000" stroke-width="2.3" stroke-dasharray="17 5.5" stroke-dashoffset="5.60"/>
<line x1="2499.50" y1="1128.00" x2="2499.50" y2="1609.50" stroke="#000" stroke-width="2.3" stroke-dasharray="17 5.5" stroke-dashoffset="2.50"/>
<line x1="1511.50" y1="1597.00" x2="2499.80" y2="1597.00" stroke="#000" stroke-width="2.3" />
<polygon points="1912.80,1597.00 1952.80,1590.10 1952.80,1603.90" fill="#000"/>
<polygon points="2049.60,1597.00 2009.60,1603.90 2009.60,1590.10" fill="#000"/>
<polygon points="2049.60,1597.00 2089.60,1590.10 2089.60,1603.90" fill="#000"/>
<polygon points="2499.80,1597.00 2459.80,1603.90 2459.80,1590.10" fill="#000"/>
<text x="1525.50" y="1589.30" font-size="50" text-anchor="start" font-weight="normal" fill="#000" >0.105-0.115</text>
<text x="2276.50" y="1589.00" font-size="50" text-anchor="middle" font-weight="normal" fill="#000" >3/8</text>
<line x1="2066.00" y1="2162.00" x2="3458.50" y2="2162.00" stroke="#000" stroke-width="2" />
<line x1="2066.00" y1="2161.00" x2="2066.00" y2="2431.50" stroke="#000" stroke-width="2" />
<line x1="3084.30" y1="2162.00" x2="3084.30" y2="2431.50" stroke="#000" stroke-width="2" />
<line x1="2066.00" y1="2341.40" x2="3084.30" y2="2341.40" stroke="#000" stroke-width="2" />
<line x1="2066.00" y1="2386.30" x2="3084.30" y2="2386.30" stroke="#000" stroke-width="2" />
<line x1="2230.40" y1="2341.40" x2="2230.40" y2="2431.50" stroke="#000" stroke-width="2" />
<line x1="2575.20" y1="2341.40" x2="2575.20" y2="2431.50" stroke="#000" stroke-width="2" />
<line x1="2739.90" y1="2341.40" x2="2739.90" y2="2386.30" stroke="#000" stroke-width="2" />
<text x="2083.80" y="2232.90" font-size="65.2" text-anchor="start" font-weight="bold" fill="#000" >EFPT0806S</text>
<text x="2090.50" y="2273.20" font-size="26" text-anchor="start" font-weight="normal" fill="#000" textLength="727.50" lengthAdjust="spacingAndGlyphs" xml:space="preserve">8-32 x 3/8&quot;Pan Head Torx SEMS Screws with&#160; Flat</text>
<text x="2090.50" y="2309.80" font-size="26" text-anchor="start" font-weight="normal" fill="#000" textLength="463.50" lengthAdjust="spacingAndGlyphs" >Washer SUS304 Stainless Steel</text>
<text x="2085.60" y="2376.60" font-size="27" text-anchor="start" font-weight="normal" fill="#000" textLength="118.00" lengthAdjust="spacingAndGlyphs" >Material</text>
<text x="2094.10" y="2420.50" font-size="27" text-anchor="start" font-weight="normal" fill="#000" textLength="102.00" lengthAdjust="spacingAndGlyphs" >Weight</text>
<text x="2284.80" y="2375.20" font-size="32.5" text-anchor="start" font-weight="normal" fill="#000" textLength="221.00" lengthAdjust="spacingAndGlyphs" >Stainless Steel</text>
<text x="2340.00" y="2423.40" font-size="26" text-anchor="start" font-weight="normal" fill="#000" textLength="110.50" lengthAdjust="spacingAndGlyphs" >2.180 g</text>
<text x="2609.30" y="2376.60" font-size="27" text-anchor="start" font-weight="normal" fill="#000" textLength="87.20" lengthAdjust="spacingAndGlyphs" >Finish</text>
<text x="2825.60" y="2375.20" font-size="32.5" text-anchor="start" font-weight="normal" fill="#000" textLength="171.30" lengthAdjust="spacingAndGlyphs" >Passivation</text>
<text x="2679.90" y="2423.40" font-size="26" text-anchor="start" font-weight="normal" fill="#1a72b6" textLength="299.50" lengthAdjust="spacingAndGlyphs" >www.superneer.com</text>
<line x1="3231.3" y1="2219.70" x2="3313.7" y2="2189.70" stroke="#1296db" stroke-width="7.4" stroke-linecap="round"/>
<line x1="3231.3" y1="2234.24" x2="3313.7" y2="2204.24" stroke="#1296db" stroke-width="7.4" stroke-linecap="round"/>
<line x1="3231.3" y1="2248.78" x2="3313.7" y2="2218.78" stroke="#1296db" stroke-width="7.4" stroke-linecap="round"/>
<line x1="3231.3" y1="2263.32" x2="3313.7" y2="2233.32" stroke="#1296db" stroke-width="7.4" stroke-linecap="round"/>
<line x1="3231.3" y1="2277.86" x2="3313.7" y2="2247.86" stroke="#1296db" stroke-width="7.4" stroke-linecap="round"/>
<line x1="3231.3" y1="2292.40" x2="3313.7" y2="2262.40" stroke="#1296db" stroke-width="7.4" stroke-linecap="round"/>
<line x1="3231.3" y1="2306.94" x2="3313.7" y2="2276.94" stroke="#1296db" stroke-width="7.4" stroke-linecap="round"/>
<line x1="3231.3" y1="2321.48" x2="3313.7" y2="2291.48" stroke="#1296db" stroke-width="7.4" stroke-linecap="round"/>
<clipPath id="lgclip"><rect x="3100" y="2372.4" width="350" height="33.20"/></clipPath>
<path d="M3141.00,2375.5 H3121.90 Q3114.90,2375.5 3114.90,2382.0 V2382.5 Q3114.90,2389.0 3121.90,2389.0 H3132.20 Q3139.20,2389.0 3139.20,2395.5 V2396.0 Q3139.20,2402.5 3132.20,2402.5 H3112.80 M3153.70,2372.4 V2392.5 Q3153.70,2402.5 3163.70,2402.5 H3166.50 Q3176.50,2402.5 3176.50,2392.5 V2372.4 M3192.20,2405.6 V2375.5 H3207.60 A7.40,7.40 0 0 1 3207.60,2390.3 H3192.20 M3250.90,2375.5 H3237.20 C3230.70,2375.5 3227.70,2380.5 3227.70,2389.0 C3227.70,2397.5 3230.70,2402.5 3237.20,2402.5 H3250.90 M3227.70,2389.0 H3250.90 M3263.30,2405.6 V2375.5 H3279.85 A7.35,7.35 0 0 1 3279.85,2390.2 H3263.30 M3276.00,2390.2 Q3286.70,2390.2 3286.70,2399.7 V2405.6 M3301.50,2405.6 V2366.4 L3324.30,2411.6 V2372.4 M3362.30,2375.5 H3348.60 C3342.10,2375.5 3339.10,2380.5 3339.10,2389.0 C3339.10,2397.5 3342.10,2402.5 3348.60,2402.5 H3362.30 M3339.10,2389.0 H3362.30 M3395.70,2375.5 H3382.00 C3375.50,2375.5 3372.50,2380.5 3372.50,2389.0 C3372.50,2397.5 3375.50,2402.5 3382.00,2402.5 H3395.70 M3372.50,2389.0 H3395.70 M3407.90,2405.6 V2375.5 H3424.45 A7.35,7.35 0 0 1 3424.45,2390.2 H3407.90 M3420.60,2390.2 Q3431.30,2390.2 3431.30,2399.7 V2405.6" fill="none" stroke="#1296db" stroke-width="6.1" stroke-linejoin="miter" stroke-miterlimit="10" clip-path="url(#lgclip)"/>
<g id="screw3d">
<defs>
<filter id="bl4" x="-50%" y="-50%" width="200%" height="200%"><feGaussianBlur stdDeviation="4"/></filter>
<filter id="bl7" x="-50%" y="-50%" width="200%" height="200%"><feGaussianBlur stdDeviation="7"/></filter>
<filter id="bl2" x="-50%" y="-50%" width="200%" height="200%"><feGaussianBlur stdDeviation="1.6"/></filter>
<linearGradient id="gth" gradientUnits="userSpaceOnUse" x1="3278.8" y1="262.7" x2="3193.5" y2="410.3"><stop offset="0" stop-color="#4a4641"/><stop offset="0.08" stop-color="#6f6a64"/><stop offset="0.35" stop-color="#8c8780"/><stop offset="0.55" stop-color="#8a857e"/><stop offset="0.68" stop-color="#b9b1a6"/><stop offset="0.8" stop-color="#8d8881"/><stop offset="0.93" stop-color="#6a655f"/><stop offset="1" stop-color="#3a3632"/></linearGradient>
<linearGradient id="gwr" gradientUnits="userSpaceOnUse" x1="3207.1" y1="90.8" x2="3008.9" y2="434.2"><stop offset="0" stop-color="#55514b"/><stop offset="0.12" stop-color="#8e8880"/><stop offset="0.22" stop-color="#b0a99f"/><stop offset="0.34" stop-color="#7d7871"/><stop offset="0.5" stop-color="#5c5852"/><stop offset="0.75" stop-color="#46423d"/><stop offset="1" stop-color="#38342f"/></linearGradient>
<linearGradient id="gwf" gradientUnits="userSpaceOnUse" x1="3194.0" y1="83.2" x2="2995.8" y2="426.6"><stop offset="0" stop-color="#69645e"/><stop offset="0.3" stop-color="#726d67"/><stop offset="0.6" stop-color="#746f69"/><stop offset="1" stop-color="#7b766f"/></linearGradient>
<linearGradient id="ghd" gradientUnits="userSpaceOnUse" x1="3136.4" y1="86.5" x2="2969.8" y2="375.0"><stop offset="0" stop-color="#6b6660"/><stop offset="0.2" stop-color="#7b766f"/><stop offset="0.45" stop-color="#78736c"/><stop offset="0.7" stop-color="#625e58"/><stop offset="0.88" stop-color="#4d4944"/><stop offset="1" stop-color="#3d3935"/></linearGradient>
<linearGradient id="ghs" gradientUnits="userSpaceOnUse" x1="3151.6" y1="95.3" x2="2985.1" y2="383.8"><stop offset="0" stop-color="#59554f"/><stop offset="0.15" stop-color="#8f8981"/><stop offset="0.3" stop-color="#a9a298"/><stop offset="0.42" stop-color="#7a756e"/><stop offset="0.7" stop-color="#55514c"/><stop offset="1" stop-color="#3c3834"/></linearGradient>
</defs>
<path d="M3058.1,303.3 L3058.3,297.1 L3059.0,290.7 L3060.2,284.1 L3061.8,277.4 L3063.8,270.6 L3066.2,263.8 L3069.0,257.1 L3072.2,250.4 L3075.8,243.9 L3079.7,237.5 L3083.8,231.4 L3088.2,225.6 L3092.9,220.1 L3097.8,215.0 L3102.8,210.3 L3107.9,206.0 L3113.1,202.2 L3118.4,198.9 L3123.6,196.1 L3128.8,193.9 L3134.0,192.3 L3139.0,191.2 L3143.8,190.7 L3148.5,190.8 L3152.9,191.5 L3157.1,192.8 L3161.0,194.7 L3391.7,327.9 L3395.2,330.3 L3398.4,333.2 L3401.2,336.7 L3403.7,340.7 L3405.7,345.2 L3407.3,350.0 L3408.4,355.3 L3409.1,360.9 L3409.3,366.9 L3409.1,373.1 L3408.4,379.5 L3407.3,386.1 L3405.7,392.8 L3403.7,399.5 L3401.2,406.3 L3398.4,413.1 L3395.2,419.7 L3391.7,426.3 L3387.8,432.6 L3383.6,438.7 L3379.2,444.5 L3374.5,450.0 L3369.7,455.1 L3364.7,459.9 L3359.5,464.1 L3354.3,467.9 L3349.1,471.2 L3343.8,474.0 L3338.6,476.2 L3333.5,477.9 L3328.4,478.9 L3323.6,479.4 L3318.9,479.3 L3314.5,478.6 L3310.3,477.3 L3306.4,475.5 L3075.8,342.3 L3072.2,339.9 L3069.0,336.9 L3066.2,333.4 L3063.8,329.4 L3061.8,325.0 L3060.2,320.1 L3059.0,314.8 L3058.3,309.2Z" fill="url(#gth)" stroke="#14110e" stroke-width="5" stroke-linejoin="round"/>
<path d="M3099.0,356.9 L3101.8,358.8 L3104.9,360.4 L3108.1,361.5 L3111.5,362.4 L3115.1,362.8 L3118.8,362.9 L3122.6,362.6 L3126.6,362.0 L3130.6,360.9 L3134.7,359.6 L3138.8,357.8 L3143.0,355.8 L3147.2,353.3 L3151.4,350.6 L3155.5,347.6 L3159.6,344.2 L3163.6,340.6 L3167.6,336.7 L3171.4,332.6 L3175.1,328.2 L3178.7,323.6 L3182.1,318.9 L3185.3,314.0 L3188.4,308.9 L3191.3,303.7 L3193.9,298.5 L3196.3,293.1 L3198.5,287.7 L3200.4,282.3 L3202.1,277.0 L3203.5,271.6 L3204.6,266.3 L3205.4,261.1 L3206.0,256.0 L3206.3,251.0 L3206.3,246.2 L3206.0,241.5 L3205.4,237.1 L3204.6,232.8 L3203.4,228.8 L3202.0,225.1 L3200.4,221.6 L3198.4,218.5 L3196.3,215.6 L3193.8,213.1 L3191.2,210.8 L3188.3,209.0 L3185.3,207.4" fill="none" stroke="#1a1714" stroke-width="6.8" stroke-linecap="round"/>
<path d="M3121.8,370.1 L3124.7,372.0 L3127.7,373.5 L3131.0,374.7 L3134.4,375.5 L3137.9,376.0 L3141.7,376.1 L3145.5,375.8 L3149.4,375.1 L3153.4,374.1 L3157.5,372.8 L3161.7,371.0 L3165.9,369.0 L3170.0,366.5 L3174.2,363.8 L3178.3,360.8 L3182.4,357.4 L3186.5,353.8 L3190.4,349.9 L3194.2,345.8 L3198.0,341.4 L3201.5,336.8 L3204.9,332.1 L3208.2,327.2 L3211.2,322.1 L3214.1,316.9 L3216.7,311.7 L3219.1,306.3 L3221.3,300.9 L3223.2,295.5 L3224.9,290.1 L3226.3,284.8 L3227.4,279.5 L3228.3,274.3 L3228.8,269.2 L3229.1,264.2 L3229.1,259.4 L3228.8,254.7 L3228.3,250.3 L3227.4,246.0 L3226.3,242.0 L3224.9,238.3 L3223.2,234.8 L3221.3,231.7 L3219.1,228.8 L3216.7,226.2 L3214.0,224.0 L3211.2,222.2 L3208.1,220.6" fill="none" stroke="#1a1714" stroke-width="6.8" stroke-linecap="round"/>
<path d="M3144.7,383.3 L3147.5,385.2 L3150.6,386.7 L3153.8,387.9 L3157.2,388.7 L3160.8,389.2 L3164.5,389.3 L3168.3,389.0 L3172.3,388.3 L3176.3,387.3 L3180.4,385.9 L3184.5,384.2 L3188.7,382.1 L3192.9,379.7 L3197.1,377.0 L3201.2,374.0 L3205.3,370.6 L3209.3,367.0 L3213.3,363.1 L3217.1,359.0 L3220.8,354.6 L3224.4,350.0 L3227.8,345.3 L3231.0,340.3 L3234.1,335.3 L3236.9,330.1 L3239.6,324.8 L3242.0,319.5 L3244.2,314.1 L3246.1,308.7 L3247.8,303.3 L3249.2,298.0 L3250.3,292.7 L3251.1,287.5 L3251.7,282.4 L3252.0,277.4 L3252.0,272.5 L3251.7,267.9 L3251.1,263.4 L3250.3,259.2 L3249.1,255.2 L3247.7,251.5 L3246.1,248.0 L3244.1,244.9 L3241.9,242.0 L3239.5,239.4 L3236.9,237.2 L3234.0,235.4 L3231.0,233.8" fill="none" stroke="#1a1714" stroke-width="6.8" stroke-linecap="round"/>
<path d="M3167.5,396.5 L3170.4,398.4 L3173.4,399.9 L3176.7,401.1 L3180.1,401.9 L3183.6,402.4 L3187.3,402.5 L3191.2,402.2 L3195.1,401.5 L3199.1,400.5 L3203.2,399.1 L3207.4,397.4 L3211.5,395.3 L3215.7,392.9 L3219.9,390.2 L3224.0,387.1 L3228.1,383.8 L3232.2,380.2 L3236.1,376.3 L3239.9,372.1 L3243.7,367.8 L3247.2,363.2 L3250.6,358.5 L3253.9,353.5 L3256.9,348.5 L3259.8,343.3 L3262.4,338.0 L3264.8,332.7 L3267.0,327.3 L3268.9,321.9 L3270.6,316.5 L3272.0,311.2 L3273.1,305.9 L3274.0,300.7 L3274.5,295.5 L3274.8,290.6 L3274.8,285.7 L3274.5,281.1 L3274.0,276.6 L3273.1,272.4 L3272.0,268.4 L3270.6,264.7 L3268.9,261.2 L3267.0,258.0 L3264.8,255.2 L3262.4,252.6 L3259.7,250.4 L3256.9,248.5 L3253.8,247.0" fill="none" stroke="#1a1714" stroke-width="6.8" stroke-linecap="round"/>
<path d="M3190.4,409.7 L3193.2,411.6 L3196.3,413.1 L3199.5,414.3 L3202.9,415.1 L3206.5,415.6 L3210.2,415.7 L3214.0,415.4 L3218.0,414.7 L3222.0,413.7 L3226.1,412.3 L3230.2,410.6 L3234.4,408.5 L3238.6,406.1 L3242.7,403.4 L3246.9,400.3 L3251.0,397.0 L3255.0,393.4 L3259.0,389.5 L3262.8,385.3 L3266.5,381.0 L3270.1,376.4 L3273.5,371.6 L3276.7,366.7 L3279.8,361.7 L3282.6,356.5 L3285.3,351.2 L3287.7,345.9 L3289.9,340.5 L3291.8,335.1 L3293.4,329.7 L3294.8,324.4 L3296.0,319.1 L3296.8,313.8 L3297.4,308.7 L3297.7,303.8 L3297.7,298.9 L3297.4,294.3 L3296.8,289.8 L3296.0,285.6 L3294.8,281.6 L3293.4,277.9 L3291.7,274.4 L3289.8,271.2 L3287.6,268.4 L3285.2,265.8 L3282.6,263.6 L3279.7,261.7 L3276.7,260.2" fill="none" stroke="#1a1714" stroke-width="6.8" stroke-linecap="round"/>
<path d="M3213.2,422.9 L3216.1,424.8 L3219.1,426.3 L3222.3,427.5 L3225.8,428.3 L3229.3,428.8 L3233.0,428.8 L3236.9,428.6 L3240.8,427.9 L3244.8,426.9 L3248.9,425.5 L3253.1,423.8 L3257.2,421.7 L3261.4,419.3 L3265.6,416.6 L3269.7,413.5 L3273.8,410.2 L3277.9,406.6 L3281.8,402.7 L3285.6,398.5 L3289.3,394.2 L3292.9,389.6 L3296.3,384.8 L3299.6,379.9 L3302.6,374.9 L3305.5,369.7 L3308.1,364.4 L3310.5,359.1 L3312.7,353.7 L3314.6,348.3 L3316.3,342.9 L3317.7,337.6 L3318.8,332.3 L3319.7,327.0 L3320.2,321.9 L3320.5,316.9 L3320.5,312.1 L3320.2,307.5 L3319.7,303.0 L3318.8,298.8 L3317.7,294.8 L3316.3,291.1 L3314.6,287.6 L3312.7,284.4 L3310.5,281.6 L3308.1,279.0 L3305.4,276.8 L3302.6,274.9 L3299.5,273.4" fill="none" stroke="#1a1714" stroke-width="6.8" stroke-linecap="round"/>
<path d="M3236.1,436.1 L3238.9,438.0 L3242.0,439.5 L3245.2,440.7 L3248.6,441.5 L3252.2,442.0 L3255.9,442.0 L3259.7,441.8 L3263.7,441.1 L3267.7,440.1 L3271.8,438.7 L3275.9,437.0 L3280.1,434.9 L3284.3,432.5 L3288.4,429.8 L3292.6,426.7 L3296.7,423.4 L3300.7,419.7 L3304.6,415.9 L3308.5,411.7 L3312.2,407.4 L3315.8,402.8 L3319.2,398.0 L3322.4,393.1 L3325.5,388.1 L3328.3,382.9 L3331.0,377.6 L3333.4,372.3 L3335.6,366.9 L3337.5,361.5 L3339.1,356.1 L3340.5,350.7 L3341.7,345.4 L3342.5,340.2 L3343.1,335.1 L3343.4,330.1 L3343.4,325.3 L3343.1,320.7 L3342.5,316.2 L3341.6,312.0 L3340.5,308.0 L3339.1,304.2 L3337.4,300.8 L3335.5,297.6 L3333.3,294.7 L3330.9,292.2 L3328.3,290.0 L3325.4,288.1 L3322.4,286.6" fill="none" stroke="#1a1714" stroke-width="6.8" stroke-linecap="round"/>
<path d="M3258.9,449.3 L3261.8,451.2 L3264.8,452.7 L3268.0,453.9 L3271.5,454.7 L3275.0,455.1 L3278.7,455.2 L3282.6,454.9 L3286.5,454.3 L3290.5,453.3 L3294.6,451.9 L3298.8,450.2 L3302.9,448.1 L3307.1,445.7 L3311.3,443.0 L3315.4,439.9 L3319.5,436.6 L3323.6,432.9 L3327.5,429.0 L3331.3,424.9 L3335.0,420.5 L3338.6,416.0 L3342.0,411.2 L3345.3,406.3 L3348.3,401.2 L3351.2,396.1 L3353.8,390.8 L3356.2,385.5 L3358.4,380.1 L3360.3,374.7 L3362.0,369.3 L3363.4,363.9 L3364.5,358.6 L3365.4,353.4 L3365.9,348.3 L3366.2,343.3 L3366.2,338.5 L3365.9,333.9 L3365.3,329.4 L3364.5,325.2 L3363.4,321.2 L3362.0,317.4 L3360.3,314.0 L3358.4,310.8 L3356.2,307.9 L3353.8,305.4 L3351.1,303.2 L3348.3,301.3 L3345.2,299.8" fill="none" stroke="#1a1714" stroke-width="6.8" stroke-linecap="round"/>
<path d="M3281.7,462.5 L3284.6,464.3 L3287.6,465.9 L3290.9,467.1 L3294.3,467.9 L3297.9,468.3 L3301.6,468.4 L3305.4,468.1 L3309.4,467.5 L3313.4,466.5 L3317.5,465.1 L3321.6,463.4 L3325.8,461.3 L3330.0,458.9 L3334.1,456.1 L3338.3,453.1 L3342.4,449.8 L3346.4,446.1 L3350.3,442.2 L3354.2,438.1 L3357.9,433.7 L3361.5,429.2 L3364.9,424.4 L3368.1,419.5 L3371.2,414.4 L3374.0,409.3 L3376.7,404.0 L3379.1,398.7 L3381.3,393.3 L3383.2,387.9 L3384.8,382.5 L3386.2,377.1 L3387.4,371.8 L3388.2,366.6 L3388.8,361.5 L3389.1,356.5 L3389.1,351.7 L3388.8,347.0 L3388.2,342.6 L3387.3,338.4 L3386.2,334.4 L3384.8,330.6 L3383.1,327.2 L3381.2,324.0 L3379.0,321.1 L3376.6,318.6 L3374.0,316.4 L3371.1,314.5 L3368.1,313.0" fill="none" stroke="#1a1714" stroke-width="6.8" stroke-linecap="round"/>
<path d="M2954.7,335.9 L2955.2,321.4 L2956.8,306.5 L2959.5,291.2 L2963.2,275.6 L2967.8,259.9 L2973.5,244.1 L2980.1,228.4 L2987.5,212.9 L2995.8,197.7 L3004.8,182.9 L3014.5,168.8 L3024.8,155.2 L3035.7,142.4 L3046.9,130.5 L3058.6,119.5 L3070.6,109.6 L3082.7,100.7 L3094.9,93.1 L3107.1,86.6 L3119.2,81.5 L3131.2,77.6 L3142.8,75.2 L3154.1,74.0 L3165.0,74.3 L3175.3,75.9 L3185.0,78.9 L3194.0,83.2 L3217.6,96.8 L3225.8,102.5 L3233.3,109.4 L3239.8,117.5 L3245.5,126.8 L3250.2,137.1 L3253.8,148.5 L3256.5,160.7 L3258.1,173.8 L3258.6,187.6 L3258.1,202.0 L3256.5,216.9 L3253.8,232.2 L3250.2,247.8 L3245.5,263.6 L3239.8,279.4 L3233.3,295.1 L3225.8,310.6 L3217.6,325.7 L3208.5,340.5 L3198.8,354.7 L3188.5,368.2 L3177.7,381.0 L3166.4,392.9 L3154.7,403.9 L3142.8,413.9 L3130.7,422.7 L3118.4,430.4 L3106.2,436.8 L3094.1,442.0 L3082.2,445.8 L3070.5,448.3 L3059.2,449.4 L3048.4,449.1 L3038.1,447.5 L3028.3,444.5 L3019.3,440.2 L2995.8,426.6 L2987.5,420.9 L2980.1,414.1 L2973.5,405.9 L2967.8,396.7 L2963.2,386.3 L2959.5,375.0 L2956.8,362.7 L2955.2,349.6Z" fill="url(#gwr)" stroke="#14110e" stroke-width="4.2" stroke-linejoin="round"/>
<path d="M2995.8,426.6 L3004.8,430.9 L3014.5,433.9 L3024.8,435.6 L3035.7,435.8 L3046.9,434.7 L3058.6,432.2 L3070.5,428.4 L3082.7,423.2 L3094.9,416.8 L3107.1,409.1 L3119.2,400.3 L3131.2,390.3 L3142.8,379.3 L3154.1,367.4 L3165.0,354.6 L3175.3,341.1 L3185.0,326.9 L3194.0,312.1 L3202.3,297.0 L3209.7,281.5 L3216.3,265.8 L3221.9,250.0 L3226.6,234.2 L3230.3,218.6 L3232.9,203.3 L3234.5,188.4 L3235.1,174.0 L3234.5,160.2 L3232.9,147.1 L3230.3,134.9 L3226.6,123.5 L3221.9,113.2 L3216.3,103.9 L3209.7,95.8 L3202.3,88.9 L3194.0,83.2 L3185.0,78.9 L3175.3,75.9 L3165.0,74.3 L3154.1,74.0 L3142.8,75.1 L3131.2,77.6 L3119.2,81.5 L3107.1,86.6 L3094.9,93.1 L3082.7,100.7 L3070.5,109.6 L3058.6,119.5 L3046.9,130.5 L3035.7,142.4 L3024.8,155.2 L3014.5,168.8 L3004.8,182.9 L2995.8,197.7 L2987.5,212.9 L2980.1,228.4 L2973.5,244.1 L2967.9,259.9 L2963.2,275.6 L2959.5,291.2 L2956.8,306.5 L2955.3,321.4 L2954.7,335.8 L2955.3,349.6 L2956.8,362.7 L2959.5,375.0 L2963.2,386.3 L2967.9,396.7 L2973.5,405.9 L2980.1,414.0 L2987.5,421.0 L2995.8,426.6Z" fill="url(#gwf)" stroke="#14110e" stroke-width="3.8"/>
<path d="M2911.3,262.7 L2911.3,260.0 L2912.4,247.1 L2912.8,244.6 L2914.9,231.7 L2918.1,218.5 L2922.3,205.2 L2927.5,191.8 L2927.9,190.9 L2933.8,178.2 L2940.4,165.8 L2947.9,153.8 L2956.0,142.3 L2956.6,141.5 L2965.5,130.4 L2975.0,120.1 L2984.8,110.7 L2994.9,102.4 L2996.9,100.8 L3007.5,93.4 L3009.8,92.0 L3020.7,85.7 L3031.5,80.8 L3034.3,79.5 L3037.1,78.6 L3048.1,74.9 L3051.0,74.2 L3061.9,72.0 L3064.9,71.5 L3067.8,71.3 L3078.6,70.6 L3081.5,70.6 L3084.4,70.7 L3094.8,71.7 L3097.7,72.0 L3100.5,72.5 L3103.3,73.2 L3113.2,75.8 L3115.9,76.7 L3118.5,77.7 L3121.1,78.9 L3130.2,83.1 L3132.7,84.4 L3137.6,87.2 L3157.1,98.5 L3166.9,104.2 L3175.1,110.0 L3182.4,117.3 L3188.5,126.1 L3193.6,136.2 L3197.4,147.5 L3199.9,160.0 L3201.2,173.4 L3201.2,187.6 L3199.9,202.5 L3197.4,217.9 L3193.6,233.7 L3188.5,249.6 L3182.4,265.4 L3175.1,281.1 L3166.9,296.5 L3157.7,311.3 L3147.7,325.4 L3137.1,338.7 L3125.8,351.0 L3114.1,362.2 L3102.0,372.1 L3089.8,380.6 L3077.4,387.8 L3065.2,393.4 L3053.1,397.4 L3041.4,399.7 L3030.1,400.4 L3019.5,399.5 L3009.5,396.9 L3000.3,392.6 L2997.9,391.2 L2985.7,384.2 L2975.9,378.6 L2973.5,377.1 L2966.2,372.9 L2963.8,371.4 L2955.5,365.6 L2953.2,364.0 L2951.0,362.2 L2948.9,360.3 L2941.7,353.0 L2939.8,351.0 L2937.9,348.8 L2936.1,346.5 L2930.1,337.9 L2928.6,335.5 L2927.1,332.9 L2922.3,323.3 L2921.1,320.6 L2920.0,317.8 L2916.5,307.2 L2915.7,304.4 L2913.3,293.0 L2912.7,290.1 L2912.4,287.1 L2911.3,275.3Z" fill="url(#ghs)" stroke="#14110e" stroke-width="4" stroke-linejoin="round"/>
<path d="M2911.3,260.2 L2912.4,247.3 L2912.8,244.8 L2914.9,231.9 L2918.1,218.6 L2922.3,205.3 L2922.8,203.9 L2927.8,191.0 L2933.7,178.2 L2940.4,165.8 L2947.9,153.7 L2956.0,142.2 L2964.7,131.4 L2965.6,130.3 L2975.1,120.0 L2984.9,110.6 L2995.1,102.2 L2997.1,100.7 L3007.7,93.3 L3010.0,91.9 L3020.9,85.6 L3031.8,80.7 L3034.5,79.5 L3045.4,75.8 L3048.3,74.9 L3051.2,74.2 L3062.2,72.0 L3065.1,71.5 L3068.0,71.3 L3078.8,70.6 L3081.8,70.6 L3084.6,70.8 L3095.0,71.7 L3097.9,72.0 L3100.7,72.6 L3103.5,73.3 L3113.4,75.9 L3116.1,76.8 L3118.7,77.8 L3121.2,79.0 L3127.8,82.0 L3130.4,83.2 L3132.9,84.5 L3141.1,90.3 L3148.4,97.7 L3154.6,106.5 L3159.6,116.6 L3163.4,127.9 L3165.9,140.3 L3167.2,153.8 L3167.2,168.0 L3165.9,182.9 L3163.4,198.3 L3159.6,214.0 L3154.6,229.9 L3148.4,245.8 L3141.1,261.5 L3132.9,276.9 L3123.7,291.7 L3113.8,305.8 L3103.1,319.1 L3091.8,331.4 L3080.1,342.5 L3068.0,352.5 L3055.8,361.0 L3043.4,368.1 L3031.2,373.7 L3019.1,377.7 L3007.4,380.1 L2996.1,380.8 L2985.5,379.9 L2975.5,377.3 L2966.3,373.0 L2963.9,371.5 L2961.6,369.9 L2953.4,364.1 L2951.2,362.3 L2949.1,360.4 L2941.9,353.2 L2939.9,351.1 L2938.0,349.0 L2936.3,346.7 L2930.3,338.1 L2928.7,335.7 L2927.2,333.1 L2922.4,323.5 L2921.2,320.8 L2920.1,318.1 L2916.6,307.5 L2915.7,304.6 L2912.8,290.4 L2912.4,287.4 L2911.3,275.5Z" fill="url(#ghd)" stroke="none"/>
<clipPath id="cdome"><path d="M2911.3,260.2 L2912.4,247.3 L2912.8,244.8 L2914.9,231.9 L2918.1,218.6 L2922.3,205.3 L2922.8,203.9 L2927.8,191.0 L2933.7,178.2 L2940.4,165.8 L2947.9,153.7 L2956.0,142.2 L2964.7,131.4 L2965.6,130.3 L2975.1,120.0 L2984.9,110.6 L2995.1,102.2 L2997.1,100.7 L3007.7,93.3 L3010.0,91.9 L3020.9,85.6 L3031.8,80.7 L3034.5,79.5 L3045.4,75.8 L3048.3,74.9 L3051.2,74.2 L3062.2,72.0 L3065.1,71.5 L3068.0,71.3 L3078.8,70.6 L3081.8,70.6 L3084.6,70.8 L3095.0,71.7 L3097.9,72.0 L3100.7,72.6 L3103.5,73.3 L3113.4,75.9 L3116.1,76.8 L3118.7,77.8 L3121.2,79.0 L3127.8,82.0 L3130.4,83.2 L3132.9,84.5 L3141.1,90.3 L3148.4,97.7 L3154.6,106.5 L3159.6,116.6 L3163.4,127.9 L3165.9,140.3 L3167.2,153.8 L3167.2,168.0 L3165.9,182.9 L3163.4,198.3 L3159.6,214.0 L3154.6,229.9 L3148.4,245.8 L3141.1,261.5 L3132.9,276.9 L3123.7,291.7 L3113.8,305.8 L3103.1,319.1 L3091.8,331.4 L3080.1,342.5 L3068.0,352.5 L3055.8,361.0 L3043.4,368.1 L3031.2,373.7 L3019.1,377.7 L3007.4,380.1 L2996.1,380.8 L2985.5,379.9 L2975.5,377.3 L2966.3,373.0 L2963.9,371.5 L2961.6,369.9 L2953.4,364.1 L2951.2,362.3 L2949.1,360.4 L2941.9,353.2 L2939.9,351.1 L2938.0,349.0 L2936.3,346.7 L2930.3,338.1 L2928.7,335.7 L2927.2,333.1 L2922.4,323.5 L2921.2,320.8 L2920.1,318.1 L2916.6,307.5 L2915.7,304.6 L2912.8,290.4 L2912.4,287.4 L2911.3,275.5Z"/></clipPath>
<g clip-path="url(#cdome)">
<ellipse cx="3025.6" cy="347.5" rx="97.6" ry="20.7" transform="rotate(-12 3025.6 347.5)" fill="#2b2824" opacity="0.55" filter="url(#bl7)"/>
<ellipse cx="2936.9" cy="294.3" rx="17.7" ry="50.3" transform="rotate(-20 2936.9 294.3)" fill="#3a3632" opacity="0.35" filter="url(#bl7)"/>
<ellipse cx="3143.9" cy="264.7" rx="17.7" ry="76.9" transform="rotate(28 3143.9 264.7)" fill="#3a3632" opacity="0.25" filter="url(#bl7)"/>
<ellipse cx="3133.5" cy="162.7" rx="8.9" ry="35.5" transform="rotate(-10 3133.5 162.7)" fill="#f3ebe1" opacity="1.0" filter="url(#bl4)"/>
<ellipse cx="3133.5" cy="162.7" rx="12.4" ry="44.4" transform="rotate(-10 3133.5 162.7)" fill="#d8d0c6" opacity="0.5" filter="url(#bl7)"/>
<ellipse cx="3112.8" cy="247.0" rx="11.2" ry="35.5" transform="rotate(24 3112.8 247.0)" fill="#b3aca2" opacity="0.75" filter="url(#bl7)"/>
<ellipse cx="3080.3" cy="298.7" rx="8.9" ry="28.1" transform="rotate(40 3080.3 298.7)" fill="#ded6cc" opacity="0.85" filter="url(#bl4)"/>
<ellipse cx="3064.0" cy="276.6" rx="7.7" ry="23.7" transform="rotate(35 3064.0 276.6)" fill="#c9c1b7" opacity="0.5" filter="url(#bl7)"/>
<ellipse cx="3030.0" cy="319.4" rx="7.1" ry="22.2" transform="rotate(58 3030.0 319.4)" fill="#d0c8be" opacity="0.8" filter="url(#bl4)"/>
<ellipse cx="2990.1" cy="307.6" rx="6.5" ry="16.3" transform="rotate(70 2990.1 307.6)" fill="#a59e95" opacity="0.6" filter="url(#bl4)"/>
<ellipse cx="3013.8" cy="338.7" rx="5.9" ry="14.8" transform="rotate(60 3013.8 338.7)" fill="#bdb5ab" opacity="0.5" filter="url(#bl4)"/>
</g>
<path d="M2955.6,364.9 L2959.7,368.6 L2964.2,371.7 L2969.0,374.5 L2974.0,376.7 L2979.3,378.5 L2984.8,379.7 L2990.5,380.5 L2996.4,380.8 L3002.5,380.6 L3008.7,379.9 L3015.0,378.7 L3021.5,377.1 L3028.1,374.9 L3034.7,372.3 L3041.4,369.2 L3048.1,365.6 L3054.8,361.6 L3061.5,357.2 L3068.2,352.4 L3074.8,347.1 L3081.3,341.5 L3087.7,335.5 L3094.0,329.1 L3100.1,322.5 L3106.1,315.5 L3111.9,308.2 L3117.5,300.7 L3122.9,293.0 L3128.0,285.0 L3132.9,276.9 L3137.5,268.6 L3141.8,260.1 L3145.8,251.6 L3149.6,243.0 L3152.9,234.4 L3156.0,225.7 L3158.7,217.0 L3161.1,208.4 L3163.0,199.9 L3164.7,191.4 L3165.9,183.1 L3166.8,174.9 L3167.3,166.9 L3167.4,159.0 L3167.1,151.5 L3166.4,144.1 L3165.4,137.1 L3164.0,130.3 L3162.2,123.9 L3160.0,117.8 L3157.5,112.0 L3154.7,106.7 L3151.5,101.7 L3147.9,97.1 L3144.1,93.0 L3139.9,89.3 L3135.5,86.1 L3130.7,83.3 L3125.7,81.1 L3120.5,79.2" fill="none" stroke="#14110e" stroke-width="3.8" stroke-linecap="round"/>
<path d="M2950.8,284.3 L2955.2,286.5 L2960.0,287.9 L2965.1,288.7 L2970.4,288.9 L2976.0,288.3 L2981.7,287.1 L2987.6,285.2 L2993.6,282.7 L2999.6,279.5 L3005.6,275.7 L3011.5,271.4 L3017.4,266.5 L3023.2,261.1 L3028.7,255.2 L3034.0,248.9 L3039.1,242.3 L3043.9,235.3 L3048.3,228.0 L3052.4,220.6 L3056.1,212.9 L3059.3,205.2 L3062.1,197.5 L3064.4,189.7 L3066.2,182.0 L3067.5,174.5 L3068.3,167.2 L3068.5,160.1 L3068.3,153.3 L3067.5,146.9 L3066.2,140.8 L3064.4,135.2 L3062.1,130.2 L3059.3,125.6 L3056.1,121.6 L3052.4,118.2 L3048.3,115.4 L3043.9,113.3 L3039.1,111.8 L3034.0,111.0 L3028.7,110.9 L3023.2,111.4 L3017.4,112.7 L3011.5,114.6 L3005.6,117.1 L2999.6,120.3 L2993.6,124.0 L2987.6,128.4 L2981.7,133.3 L2976.0,138.7 L2970.4,144.5 L2965.1,150.8 L2960.0,157.5 L2955.2,164.5 L2950.8,171.7 L2946.7,179.2 L2943.1,186.8 L2939.9,194.6 L2937.1,202.3 L2934.8,210.1 L2933.0,217.7 L2931.7,225.3 L2930.9,232.6 L2930.6,239.7 L2930.9,246.5 L2931.7,252.9 L2933.0,258.9 L2934.8,264.5 L2937.1,269.6 L2939.9,274.2 L2943.1,278.2 L2946.7,281.6 L2950.8,284.3Z" fill="#736e68" stroke="#14110e" stroke-width="3.8"/>
<path d="M2961.4,231.1 L2958.0,235.0 L2955.3,239.6 L2953.5,244.5 L2952.8,249.2 L2953.2,253.2 L2954.8,256.3 L2957.3,258.1 L2960.6,258.5 L2964.2,257.3 L2968.0,254.8 L2971.5,251.2 L2974.4,246.7 L2975.9,244.4 L2977.5,242.4 L2979.4,240.7 L2981.3,239.4 L2983.2,238.6 L2985.0,238.4 L2986.6,238.6 L2987.9,239.5 L2988.9,240.8 L2989.6,242.5 L2989.8,244.6 L2989.6,246.9 L2989.4,251.4 L2990.3,255.1 L2992.3,257.6 L2995.1,258.9 L2998.6,258.6 L3002.4,256.8 L3006.1,253.8 L3009.4,249.8 L3011.9,245.1 L3013.6,240.2 L3014.1,235.6 L3013.5,231.7 L3013.1,229.7 L3013.1,227.5 L3013.6,225.1 L3014.4,222.6 L3015.6,220.2 L3017.1,217.9 L3018.8,215.9 L3020.6,214.3 L3022.6,213.1 L3024.4,212.4 L3026.2,212.3 L3027.8,212.7 L3030.9,213.3 L3034.6,212.4 L3038.3,210.1 L3041.9,206.6 L3044.9,202.2 L3047.1,197.4 L3048.3,192.6 L3048.4,188.2 L3047.3,184.7 L3045.1,182.3 L3042.2,181.3 L3038.6,181.8 L3036.8,182.2 L3035.2,182.0 L3033.8,181.3 L3032.7,180.1 L3032.0,178.4 L3031.6,176.4 L3031.8,174.1 L3032.3,171.7 L3033.2,169.2 L3034.5,166.8 L3036.0,164.6 L3037.7,162.7 L3041.1,158.8 L3043.8,154.2 L3045.6,149.3 L3046.3,144.6 L3045.9,140.5 L3044.4,137.5 L3041.8,135.7 L3038.6,135.3 L3034.9,136.4 L3031.1,138.9 L3027.6,142.6 L3024.7,147.1 L3023.3,149.3 L3021.6,151.4 L3019.8,153.1 L3017.8,154.4 L3015.9,155.2 L3014.2,155.4 L3012.5,155.1 L3011.2,154.3 L3010.2,153.0 L3009.6,151.3 L3009.4,149.2 L3009.5,146.9 L3009.8,142.4 L3008.8,138.7 L3006.9,136.1 L3004.0,134.9 L3000.5,135.2 L2996.8,136.9 L2993.1,140.0 L2989.8,144.0 L2987.2,148.7 L2985.6,153.5 L2985.0,158.2 L2985.7,162.1 L2986.0,164.1 L2986.0,166.3 L2985.6,168.7 L2984.7,171.2 L2983.6,173.6 L2982.1,175.9 L2980.4,177.9 L2978.5,179.5 L2976.6,180.7 L2974.7,181.3 L2972.9,181.5 L2971.4,181.1 L2968.2,180.5 L2964.6,181.4 L2960.8,183.7 L2957.2,187.2 L2954.2,191.5 L2952.0,196.4 L2950.8,201.2 L2950.8,205.6 L2951.9,209.1 L2954.0,211.5 L2957.0,212.5 L2960.5,211.9 L2962.3,211.6 L2964.0,211.8 L2965.4,212.5 L2966.5,213.7 L2967.2,215.3 L2967.5,217.3 L2967.4,219.6 L2966.9,222.1 L2965.9,224.5 L2964.7,226.9 L2963.1,229.1Z" fill="#6d6862" stroke="#14110e" stroke-width="3.4" stroke-linejoin="round"/>
<clipPath id="ctx"><path d="M2961.4,231.1 L2958.0,235.0 L2955.3,239.6 L2953.5,244.5 L2952.8,249.2 L2953.2,253.2 L2954.8,256.3 L2957.3,258.1 L2960.6,258.5 L2964.2,257.3 L2968.0,254.8 L2971.5,251.2 L2974.4,246.7 L2975.9,244.4 L2977.5,242.4 L2979.4,240.7 L2981.3,239.4 L2983.2,238.6 L2985.0,238.4 L2986.6,238.6 L2987.9,239.5 L2988.9,240.8 L2989.6,242.5 L2989.8,244.6 L2989.6,246.9 L2989.4,251.4 L2990.3,255.1 L2992.3,257.6 L2995.1,258.9 L2998.6,258.6 L3002.4,256.8 L3006.1,253.8 L3009.4,249.8 L3011.9,245.1 L3013.6,240.2 L3014.1,235.6 L3013.5,231.7 L3013.1,229.7 L3013.1,227.5 L3013.6,225.1 L3014.4,222.6 L3015.6,220.2 L3017.1,217.9 L3018.8,215.9 L3020.6,214.3 L3022.6,213.1 L3024.4,212.4 L3026.2,212.3 L3027.8,212.7 L3030.9,213.3 L3034.6,212.4 L3038.3,210.1 L3041.9,206.6 L3044.9,202.2 L3047.1,197.4 L3048.3,192.6 L3048.4,188.2 L3047.3,184.7 L3045.1,182.3 L3042.2,181.3 L3038.6,181.8 L3036.8,182.2 L3035.2,182.0 L3033.8,181.3 L3032.7,180.1 L3032.0,178.4 L3031.6,176.4 L3031.8,174.1 L3032.3,171.7 L3033.2,169.2 L3034.5,166.8 L3036.0,164.6 L3037.7,162.7 L3041.1,158.8 L3043.8,154.2 L3045.6,149.3 L3046.3,144.6 L3045.9,140.5 L3044.4,137.5 L3041.8,135.7 L3038.6,135.3 L3034.9,136.4 L3031.1,138.9 L3027.6,142.6 L3024.7,147.1 L3023.3,149.3 L3021.6,151.4 L3019.8,153.1 L3017.8,154.4 L3015.9,155.2 L3014.2,155.4 L3012.5,155.1 L3011.2,154.3 L3010.2,153.0 L3009.6,151.3 L3009.4,149.2 L3009.5,146.9 L3009.8,142.4 L3008.8,138.7 L3006.9,136.1 L3004.0,134.9 L3000.5,135.2 L2996.8,136.9 L2993.1,140.0 L2989.8,144.0 L2987.2,148.7 L2985.6,153.5 L2985.0,158.2 L2985.7,162.1 L2986.0,164.1 L2986.0,166.3 L2985.6,168.7 L2984.7,171.2 L2983.6,173.6 L2982.1,175.9 L2980.4,177.9 L2978.5,179.5 L2976.6,180.7 L2974.7,181.3 L2972.9,181.5 L2971.4,181.1 L2968.2,180.5 L2964.6,181.4 L2960.8,183.7 L2957.2,187.2 L2954.2,191.5 L2952.0,196.4 L2950.8,201.2 L2950.8,205.6 L2951.9,209.1 L2954.0,211.5 L2957.0,212.5 L2960.5,211.9 L2962.3,211.6 L2964.0,211.8 L2965.4,212.5 L2966.5,213.7 L2967.2,215.3 L2967.5,217.3 L2967.4,219.6 L2966.9,222.1 L2965.9,224.5 L2964.7,226.9 L2963.1,229.1Z"/></clipPath>
<g clip-path="url(#ctx)">
<linearGradient id="tf1" gradientUnits="userSpaceOnUse" x1="2999.0" y1="135.6" x2="2997.1" y2="157.3"><stop offset="0" stop-color="#3f3b37"/><stop offset="0.6" stop-color="#6a655f"/><stop offset="1" stop-color="#8a847c"/></linearGradient>
<path d="M2985.2,132.7 L3015.8,132.7 L3015.8,157.3 L2985.2,157.3Z" fill="url(#tf1)"/>
<linearGradient id="tf2" gradientUnits="userSpaceOnUse" x1="3037.5" y1="142.5" x2="3027.6" y2="165.2"><stop offset="0" stop-color="#45413c"/><stop offset="0.42" stop-color="#5f5a54"/><stop offset="0.5" stop-color="#1a1714"/><stop offset="0.58" stop-color="#524e48"/><stop offset="1" stop-color="#45413c"/></linearGradient>
<path d="M3021.7,139.6 L3052.3,139.6 L3052.3,171.1 L3017.8,166.2Z" fill="url(#tf2)"/>
<linearGradient id="tf3" gradientUnits="userSpaceOnUse" x1="3007.9" y1="159.8" x2="2994.1" y2="191.4"><stop offset="0" stop-color="#4a4641"/><stop offset="0.22" stop-color="#cfc8be"/><stop offset="0.36" stop-color="#1a1714"/><stop offset="0.44" stop-color="#d8d1c7"/><stop offset="0.7" stop-color="#8a847c"/><stop offset="1" stop-color="#524e48"/></linearGradient>
<path d="M2987.7,153.4 L3029.1,168.2 L3024.2,201.2 L2980.8,183.5Z" fill="url(#tf3)"/>
<linearGradient id="tf4" gradientUnits="userSpaceOnUse" x1="2979.3" y1="191.9" x2="2969.9" y2="213.1"><stop offset="0" stop-color="#4a4641"/><stop offset="0.5" stop-color="#69645e"/><stop offset="0.85" stop-color="#bab3a9"/><stop offset="1" stop-color="#8a847c"/></linearGradient>
<path d="M2952.7,185.9 L3001.5,201.7 L2989.2,219.0 L2952.7,210.1Z" fill="url(#tf4)"/>
<linearGradient id="tf5" gradientUnits="userSpaceOnUse" x1="2988.4" y1="224.9" x2="2981.5" y2="240.7"><stop offset="0" stop-color="#1a1714"/><stop offset="0.12" stop-color="#e3dcd2"/><stop offset="0.5" stop-color="#a39c93"/><stop offset="1" stop-color="#69645e"/></linearGradient>
<path d="M2969.0,217.0 L3005.4,234.8 L3002.5,250.5 L2966.0,232.8Z" fill="url(#tf5)"/>
<linearGradient id="tf6" gradientUnits="userSpaceOnUse" x1="2962.5" y1="238.2" x2="2955.6" y2="255.0"><stop offset="0" stop-color="#3a3632"/><stop offset="0.5" stop-color="#6a655f"/><stop offset="1" stop-color="#b8b1a7"/></linearGradient>
<path d="M2949.7,237.2 L2973.4,241.7 L2971.4,259.9 L2949.7,257.9Z" fill="url(#tf6)"/>
<linearGradient id="tf7" gradientUnits="userSpaceOnUse" x1="2998.0" y1="248.1" x2="2996.1" y2="255.0"><stop offset="0" stop-color="#2a2622"/><stop offset="0.4" stop-color="#e8e1d7"/><stop offset="1" stop-color="#5a5650"/></linearGradient>
<path d="M2989.2,246.1 L3005.0,253.0 L3003.0,257.9 L2988.2,251.0Z" fill="url(#tf7)"/>
<line x1="2980.8" y1="183.5" x2="3001.5" y2="201.7" stroke="#14110e" stroke-width="2.2" stroke-linecap="round"/>
<line x1="3001.5" y1="201.7" x2="2989.2" y2="219.0" stroke="#14110e" stroke-width="2.2" stroke-linecap="round"/>
<line x1="3024.2" y1="201.2" x2="3001.5" y2="201.7" stroke="#14110e" stroke-width="1.6" stroke-linecap="round"/>
<line x1="2969.0" y1="217.0" x2="3005.4" y2="234.8" stroke="#14110e" stroke-width="2.2" stroke-linecap="round"/>
<line x1="3028.1" y1="169.2" x2="3024.2" y2="201.2" stroke="#14110e" stroke-width="1.8" stroke-linecap="round"/>
</g>
<path d="M2961.4,231.1 L2958.0,235.0 L2955.3,239.6 L2953.5,244.5 L2952.8,249.2 L2953.2,253.2 L2954.8,256.3 L2957.3,258.1 L2960.6,258.5 L2964.2,257.3 L2968.0,254.8 L2971.5,251.2 L2974.4,246.7 L2975.9,244.4 L2977.5,242.4 L2979.4,240.7 L2981.3,239.4 L2983.2,238.6 L2985.0,238.4 L2986.6,238.6 L2987.9,239.5 L2988.9,240.8 L2989.6,242.5 L2989.8,244.6 L2989.6,246.9 L2989.4,251.4 L2990.3,255.1 L2992.3,257.6 L2995.1,258.9 L2998.6,258.6 L3002.4,256.8 L3006.1,253.8 L3009.4,249.8 L3011.9,245.1 L3013.6,240.2 L3014.1,235.6 L3013.5,231.7 L3013.1,229.7 L3013.1,227.5 L3013.6,225.1 L3014.4,222.6 L3015.6,220.2 L3017.1,217.9 L3018.8,215.9 L3020.6,214.3 L3022.6,213.1 L3024.4,212.4 L3026.2,212.3 L3027.8,212.7 L3030.9,213.3 L3034.6,212.4 L3038.3,210.1 L3041.9,206.6 L3044.9,202.2 L3047.1,197.4 L3048.3,192.6 L3048.4,188.2 L3047.3,184.7 L3045.1,182.3 L3042.2,181.3 L3038.6,181.8 L3036.8,182.2 L3035.2,182.0 L3033.8,181.3 L3032.7,180.1 L3032.0,178.4 L3031.6,176.4 L3031.8,174.1 L3032.3,171.7 L3033.2,169.2 L3034.5,166.8 L3036.0,164.6 L3037.7,162.7 L3041.1,158.8 L3043.8,154.2 L3045.6,149.3 L3046.3,144.6 L3045.9,140.5 L3044.4,137.5 L3041.8,135.7 L3038.6,135.3 L3034.9,136.4 L3031.1,138.9 L3027.6,142.6 L3024.7,147.1 L3023.3,149.3 L3021.6,151.4 L3019.8,153.1 L3017.8,154.4 L3015.9,155.2 L3014.2,155.4 L3012.5,155.1 L3011.2,154.3 L3010.2,153.0 L3009.6,151.3 L3009.4,149.2 L3009.5,146.9 L3009.8,142.4 L3008.8,138.7 L3006.9,136.1 L3004.0,134.9 L3000.5,135.2 L2996.8,136.9 L2993.1,140.0 L2989.8,144.0 L2987.2,148.7 L2985.6,153.5 L2985.0,158.2 L2985.7,162.1 L2986.0,164.1 L2986.0,166.3 L2985.6,168.7 L2984.7,171.2 L2983.6,173.6 L2982.1,175.9 L2980.4,177.9 L2978.5,179.5 L2976.6,180.7 L2974.7,181.3 L2972.9,181.5 L2971.4,181.1 L2968.2,180.5 L2964.6,181.4 L2960.8,183.7 L2957.2,187.2 L2954.2,191.5 L2952.0,196.4 L2950.8,201.2 L2950.8,205.6 L2951.9,209.1 L2954.0,211.5 L2957.0,212.5 L2960.5,211.9 L2962.3,211.6 L2964.0,211.8 L2965.4,212.5 L2966.5,213.7 L2967.2,215.3 L2967.5,217.3 L2967.4,219.6 L2966.9,222.1 L2965.9,224.5 L2964.7,226.9 L2963.1,229.1Z" fill="none" stroke="#14110e" stroke-width="3.4" stroke-linejoin="round"/>
</g>
</svg>
</body></html>
